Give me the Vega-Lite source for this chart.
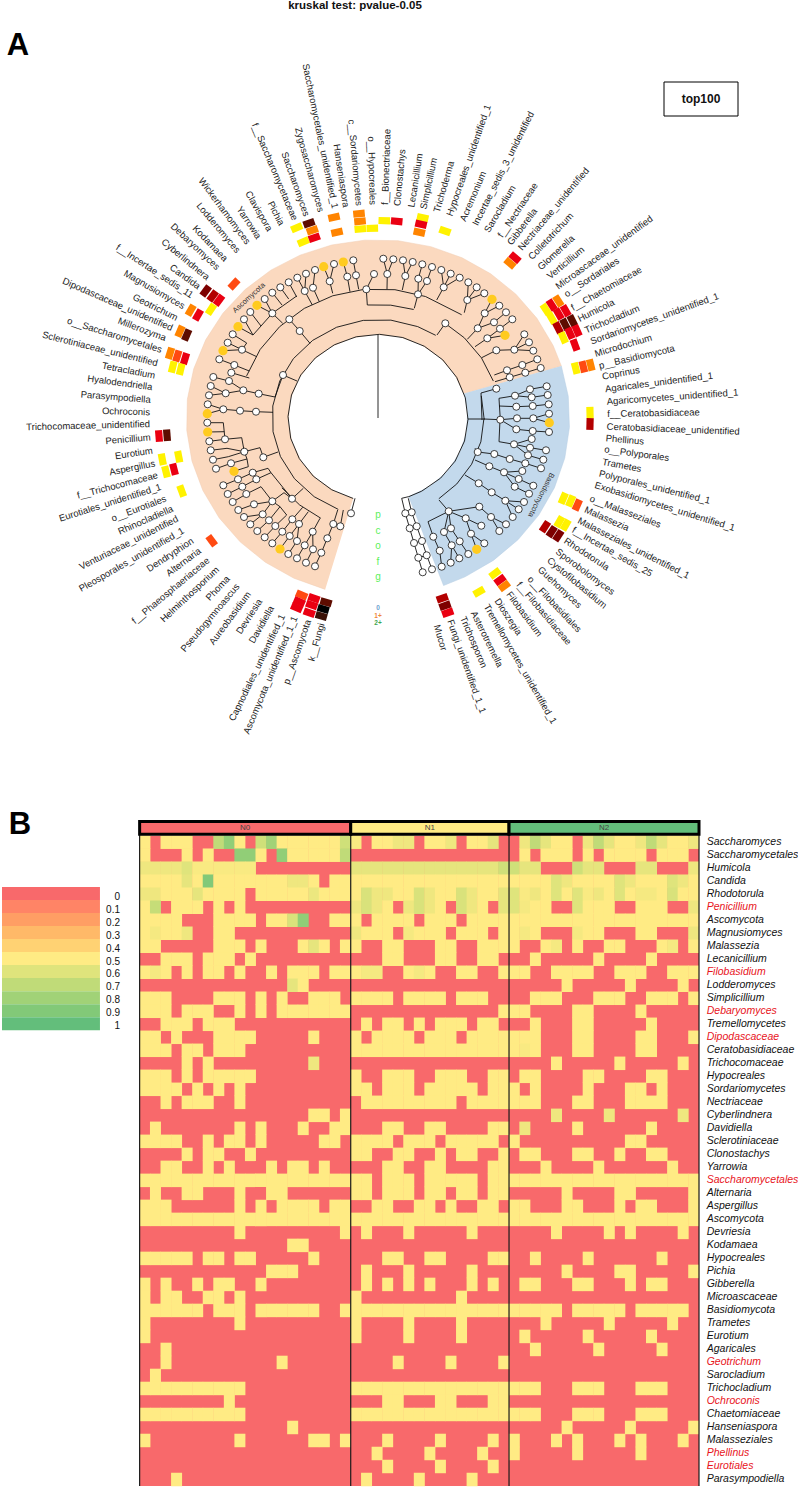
{"$schema":"https://vega.github.io/schema/vega-lite/v6.json","padding":0,"spacing":0,"bounds":"flush","background":"white","config":{"view":{"stroke":null},"text":{"font":"Liberation Sans"}},
"datasets":{
"polar":[
{"id":"p","o":1,"t":196,"r":191.7},{"id":"p","o":2,"t":206,"r":191.7},{"id":"p","o":3,"t":216,"r":191.7},{"id":"p","o":4,"t":226,"r":191.7},{"id":"p","o":5,"t":236,"r":191.7},{"id":"p","o":6,"t":246,"r":191.7},{"id":"p","o":7,"t":256,"r":191.7},{"id":"p","o":8,"t":266,"r":191.7},{"id":"p","o":9,"t":276,"r":191.7},{"id":"p","o":10,"t":286,"r":191.7},{"id":"p","o":11,"t":296,"r":191.7},{"id":"p","o":12,"t":306,"r":191.7},{"id":"p","o":13,"t":316,"r":191.7},{"id":"p","o":14,"t":326,"r":191.7},{"id":"p","o":15,"t":336,"r":191.7},{"id":"p","o":16,"t":346,"r":191.7},{"id":"p","o":17,"t":356,"r":191.7},{"id":"p","o":18,"t":366,"r":191.7},{"id":"p","o":19,"t":376,"r":191.7},{"id":"p","o":20,"t":386,"r":191.7},{"id":"p","o":21,"t":396,"r":191.7},{"id":"p","o":22,"t":406,"r":191.7},{"id":"p","o":23,"t":416,"r":191.7},{"id":"p","o":24,"t":426,"r":191.7},{"id":"p","o":25,"t":433,"r":191.7},
{"id":"p","o":26,"t":433,"r":90},{"id":"p","o":27,"t":418,"r":90},{"id":"p","o":28,"t":403,"r":90},{"id":"p","o":29,"t":388,"r":90},{"id":"p","o":30,"t":373,"r":90},{"id":"p","o":31,"t":358,"r":90},{"id":"p","o":32,"t":343,"r":90},{"id":"p","o":33,"t":328,"r":90},{"id":"p","o":34,"t":313,"r":90},{"id":"p","o":35,"t":298,"r":90},{"id":"p","o":36,"t":283,"r":90},{"id":"p","o":37,"t":268,"r":90},{"id":"p","o":38,"t":253,"r":90},{"id":"p","o":39,"t":238,"r":90},{"id":"p","o":40,"t":223,"r":90},{"id":"p","o":41,"t":208,"r":90},{"id":"p","o":42,"t":196,"r":90},
{"id":"b","o":1,"t":73,"r":191.7},{"id":"b","o":2,"t":83,"r":191.7},{"id":"b","o":3,"t":93,"r":191.7},{"id":"b","o":4,"t":103,"r":191.7},{"id":"b","o":5,"t":113,"r":191.7},{"id":"b","o":6,"t":123,"r":191.7},{"id":"b","o":7,"t":133,"r":191.7},{"id":"b","o":8,"t":143,"r":191.7},{"id":"b","o":9,"t":153,"r":191.7},{"id":"b","o":10,"t":160,"r":191.7},{"id":"b","o":11,"t":160,"r":90},{"id":"b","o":12,"t":145,"r":90},{"id":"b","o":13,"t":130,"r":90},{"id":"b","o":14,"t":115,"r":90},{"id":"b","o":15,"t":100,"r":90},{"id":"b","o":16,"t":85,"r":90},{"id":"b","o":17,"t":73,"r":90},
{"id":"a1","o":1,"t":196,"r":90},{"id":"a1","o":2,"t":211,"r":90},{"id":"a1","o":3,"t":226,"r":90},{"id":"a1","o":4,"t":241,"r":90},{"id":"a1","o":5,"t":256,"r":90},{"id":"a1","o":6,"t":271,"r":90},{"id":"a1","o":7,"t":286,"r":90},{"id":"a1","o":8,"t":301,"r":90},{"id":"a1","o":9,"t":316,"r":90},{"id":"a1","o":10,"t":331,"r":90},{"id":"a1","o":11,"t":346,"r":90},{"id":"a1","o":12,"t":361,"r":90},{"id":"a1","o":13,"t":376,"r":90},{"id":"a1","o":14,"t":391,"r":90},{"id":"a1","o":15,"t":406,"r":90},{"id":"a1","o":16,"t":421,"r":90},{"id":"a1","o":17,"t":436,"r":90},{"id":"a1","o":18,"t":451,"r":90},{"id":"a1","o":19,"t":466,"r":90},{"id":"a1","o":20,"t":481,"r":90},{"id":"a1","o":21,"t":496,"r":90},{"id":"a1","o":22,"t":511,"r":90},{"id":"a1","o":23,"t":520,"r":90},
{"id":"a2","o":1,"t":202,"r":106},{"id":"a2","o":2,"t":217,"r":106},{"id":"a2","o":3,"t":232,"r":106},{"id":"a2","o":4,"t":247,"r":106},{"id":"a2","o":5,"t":262,"r":106},{"id":"a2","o":6,"t":277,"r":106},{"id":"a2","o":7,"t":292,"r":106},{"id":"a2","o":8,"t":307,"r":106},{"id":"a2","o":9,"t":322,"r":106},{"id":"a2","o":10,"t":337,"r":106},{"id":"a2","o":11,"t":352,"r":106},{"id":"a2","o":12,"t":367,"r":106},{"id":"a2","o":13,"t":382,"r":106},{"id":"a2","o":14,"t":393,"r":106},
{"id":"a3","o":1,"t":77,"r":106},{"id":"a3","o":2,"t":90,"r":106},{"id":"a3","o":3,"t":104,"r":106},{"id":"a3","o":4,"t":118,"r":106},{"id":"a3","o":5,"t":132,"r":106},{"id":"a3","o":6,"t":145,"r":106},
{"id":"a4","o":1,"t":393,"r":122},{"id":"a4","o":2,"t":405,"r":122},{"id":"a4","o":3,"t":418,"r":122},{"id":"a4","o":4,"t":431,"r":122},
{"id":"a5","o":1,"t":355,"r":122},{"id":"a5","o":2,"t":366,"r":122},{"id":"a5","o":3,"t":377,"r":122},
{"id":"a6","o":1,"t":208,"r":122},{"id":"a6","o":2,"t":220,"r":122},{"id":"a6","o":3,"t":232,"r":122},
{"id":"a7","o":1,"t":289,"r":139},{"id":"a7","o":2,"t":302,"r":139},{"id":"a7","o":3,"t":315,"r":139},{"id":"a7","o":4,"t":328,"r":139},{"id":"a7","o":5,"t":341,"r":139},{"id":"a7","o":6,"t":354,"r":139},{"id":"a7","o":7,"t":367,"r":139},{"id":"a7","o":8,"t":380,"r":139},{"id":"a7","o":9,"t":397,"r":139}
],
"edges":[
{"x":378,"y":335,"x2":378,"y2":418},
{"x":207.7,"y":404.3,"x2":223.3,"y2":409.3},{"x":207.3,"y":413.7,"x2":223.3,"y2":409.3},{"x":223.3,"y":409.3,"x2":240,"y2":410.7},{"x":240,"y":410.7,"x2":256,"y2":411.7},{"x":256,"y":411.7,"x2":273,"y2":412.3},
{"x":209,"y":395.3,"x2":225.7,"y2":393.3},{"x":210.7,"y":386,"x2":225.7,"y2":393.3},{"x":213.3,"y":377,"x2":229,"y2":381},{"x":229,"y":381,"x2":243.3,"y2":390.3},{"x":225.7,"y":393.3,"x2":243.3,"y2":390.3},{"x":243.3,"y":390.3,"x2":258.7,"y2":393.7},{"x":258.7,"y":393.7,"x2":275,"y2":397},
{"x":219.3,"y":359.3,"x2":234.3,"y2":365},{"x":234.3,"y":365,"x2":249.3,"y2":371},{"x":231.3,"y":372.7,"x2":249.3,"y2":378},
{"x":223,"y":350.7,"x2":242,"y2":349.7},{"x":227.7,"y":342.7,"x2":242,"y2":349.7},{"x":242,"y":349.7,"x2":256.7,"y2":356.7},{"x":232.7,"y":334.3,"x2":246.7,"y2":343},{"x":246.7,"y":343,"x2":242,"y2":349.7},
{"x":238,"y":326.7,"x2":253,"y2":335},{"x":244,"y":319.3,"x2":253,"y2":335},{"x":250.3,"y":312,"x2":261,"y2":326},{"x":257,"y":305.3,"x2":272.3,"y2":313.3},{"x":264.7,"y":299,"x2":272.3,"y2":313.3},{"x":253,"y":335,"x2":272.3,"y2":313.3},{"x":272.3,"y":313.3,"x2":282.7,"y2":323.3},
{"x":272.3,"y":292.7,"x2":282,"y2":305},{"x":280.3,"y":287.3,"x2":288.7,"y2":299},{"x":288.7,"y":282.3,"x2":296.7,"y2":297},{"x":272.3,"y":313.3,"x2":296.7,"y2":296},
{"x":297.3,"y":277.7,"x2":304.7,"y2":291},{"x":306,"y":273.7,"x2":304.7,"y2":291},{"x":304.7,"y":291,"x2":312.3,"y2":305},{"x":315,"y":270,"x2":313,"y2":287.7},{"x":313,"y":287.7,"x2":319.3,"y2":301.7},{"x":323.7,"y":266.7,"x2":329.7,"y2":281.3},{"x":334,"y":264,"x2":329.7,"y2":281.3},{"x":329.7,"y":281.3,"x2":332.7,"y2":293.3},{"x":343.3,"y":262,"x2":347.3,"y2":276.7},{"x":347.3,"y":276.7,"x2":350,"y2":291.7},{"x":353.3,"y":260.3,"x2":356,"y2":275.3},{"x":356,"y":275.3,"x2":358.7,"y2":289.3},{"x":374,"y":274,"x2":366.3,"y2":289.3},{"x":366.3,"y":289.3,"x2":367.3,"y2":305},
{"x":289.3,"y":319.3,"x2":299.7,"y2":331},{"x":299.7,"y":331,"x2":310,"y2":343.3},{"x":283,"y":375,"x2":275,"y2":397},{"x":283,"y":375,"x2":297,"y2":381},
{"x":383.3,"y":258.7,"x2":387.3,"y2":274},{"x":393.3,"y":259.3,"x2":387.3,"y2":274},{"x":387.3,"y":274,"x2":387,"y2":289.3},{"x":403,"y":260.3,"x2":405.3,"y2":276},{"x":412.7,"y":262,"x2":405.3,"y2":276},{"x":405.3,"y":276,"x2":402.3,"y2":290},{"x":422.3,"y":264.3,"x2":418.3,"y2":278.7},{"x":432,"y":267,"x2":427,"y2":281},{"x":418.3,"y":278.7,"x2":418,"y2":294.3},{"x":427,"y":281,"x2":418,"y2":294.3},{"x":418,"y":294.3,"x2":414.3,"y2":308.3},{"x":441.3,"y":270,"x2":443.7,"y2":287.3},{"x":450.7,"y":273.7,"x2":443.7,"y2":287.3},{"x":459.7,"y":277.7,"x2":443.7,"y2":287.3},{"x":443.7,"y":287.3,"x2":436.7,"y2":300},{"x":468.3,"y":282.3,"x2":467.3,"y2":300},{"x":476.7,"y":287.3,"x2":467.3,"y2":300},{"x":484.3,"y":293.3,"x2":467.3,"y2":300},{"x":467.3,"y":300,"x2":464.3,"y2":312.7},
{"x":492,"y":299.3,"x2":484.7,"y2":313.3},{"x":499.3,"y":305.7,"x2":484.7,"y2":313.3},{"x":484.7,"y":313.3,"x2":477.7,"y2":328.3},{"x":506,"y":312.3,"x2":494,"y2":322.3},{"x":494,"y":322.3,"x2":477.7,"y2":328.3},{"x":477.7,"y":328.3,"x2":467.3,"y2":339.3},{"x":512.3,"y":319.3,"x2":500,"y2":328.7},{"x":500,"y":328.7,"x2":487.3,"y2":338.3},{"x":505,"y":335.3,"x2":487.3,"y2":338.3},{"x":487.3,"y":338.3,"x2":475,"y2":346.7},{"x":524.3,"y":334.3,"x2":514.3,"y2":349.7},{"x":529,"y":342.3,"x2":514.3,"y2":349.7},{"x":533.3,"y":350.7,"x2":514.3,"y2":349.7},{"x":514.3,"y":349.7,"x2":496.3,"y2":350.3},{"x":496.3,"y":350.3,"x2":481.7,"y2":357.7},{"x":537.3,"y":359.3,"x2":522.3,"y2":365},{"x":522.3,"y":365,"x2":507,"y2":370.3},{"x":507,"y":370.3,"x2":494.3,"y2":375},{"x":540.7,"y":368,"x2":525.3,"y2":372.7},{"x":525.3,"y":372.7,"x2":509.7,"y2":377.3},{"x":509.7,"y":377.3,"x2":495,"y2":381.7},{"x":445.3,"y":323.3,"x2":437,"y2":335},
{"x":496.3,"y":388.7,"x2":481,"y2":393},{"x":481,"y":393,"x2":482,"y2":420},{"x":468,"y":419,"x2":485,"y2":419},{"x":484,"y":419,"x2":500.3,"y2":419.7},{"x":500.3,"y":419.7,"x2":499,"y2":398.3},{"x":499,"y":398.3,"x2":515,"y2":395.7},{"x":499,"y":406,"x2":516.3,"y2":406.7},{"x":500.3,"y":419.7,"x2":517,"y2":418.3},{"x":500.3,"y":419.7,"x2":516.3,"y2":429.3},{"x":500,"y":419.7,"x2":499,"y2":441.7},{"x":499,"y":441.7,"x2":514,"y2":444.3},
{"x":515,"y":395.7,"x2":530,"y2":389.3},{"x":530,"y":389.3,"x2":546.7,"y2":386.3},{"x":515,"y":395.7,"x2":531.7,"y2":397.3},{"x":531.7,"y":397.3,"x2":547.7,"y2":395},{"x":516.3,"y":406.7,"x2":532.7,"y2":406},{"x":532.7,"y":406,"x2":548.7,"y2":404.3},{"x":517,"y":418.3,"x2":533.3,"y2":418.3},{"x":533.3,"y":418.3,"x2":549,"y2":413.7},{"x":533.3,"y":418.3,"x2":549.3,"y2":422.7},{"x":516.3,"y":429.3,"x2":532.7,"y2":431},{"x":532.7,"y":431,"x2":549,"y2":432},{"x":514,"y":444.3,"x2":531.7,"y2":439},{"x":514,"y":444.3,"x2":530,"y2":447.7},{"x":530,"y":447.7,"x2":546,"y2":450.3},{"x":514,"y":444.3,"x2":528,"y2":455.3},{"x":528,"y":455.3,"x2":543.3,"y2":459.7},
{"x":475,"y":448.3,"x2":477.7,"y2":452},{"x":477.7,"y":452,"x2":494.3,"y2":454},{"x":494.3,"y":454,"x2":509.7,"y2":459},{"x":509.7,"y":459,"x2":525.3,"y2":463.3},{"x":525.3,"y":463.3,"x2":541,"y2":468.3},{"x":475,"y":460,"x2":489.3,"y2":466.3},{"x":489.3,"y":466.3,"x2":504,"y2":472.3},{"x":504,"y":472.3,"x2":522.3,"y2":471},{"x":504,"y":472.3,"x2":518.7,"y2":479},{"x":518.7,"y":479,"x2":533.3,"y2":485.7},{"x":504,"y":472.3,"x2":514.7,"y2":486.7},{"x":514.7,"y":486.7,"x2":529,"y2":493.7},
{"x":465,"y":475,"x2":478.7,"y2":483.3},{"x":478.7,"y":483.3,"x2":491.7,"y2":492.3},{"x":491.7,"y":492.3,"x2":505.3,"y2":500.7},{"x":505.3,"y":500.7,"x2":524,"y2":502},{"x":505.3,"y":500.7,"x2":518.7,"y2":509.3},{"x":505.3,"y":500.7,"x2":512.7,"y2":517},
{"x":439,"y":500,"x2":448.7,"y2":511.3},{"x":448.7,"y":511.3,"x2":479.3,"y2":506.7},{"x":479.3,"y":506.7,"x2":491,"y2":517},{"x":491,"y":517,"x2":506,"y2":524.3},{"x":491,"y":517,"x2":499.3,"y2":531},{"x":448.7,"y":511.3,"x2":465.7,"y2":518.3},{"x":465.7,"y":518.3,"x2":481.3,"y2":525.7},{"x":465.7,"y":518.3,"x2":471,"y2":533.7},{"x":471,"y":533.7,"x2":484.3,"y2":543.3},{"x":471,"y":533.7,"x2":476.7,"y2":549.3},{"x":448.7,"y":511.3,"x2":451,"y2":528.3},{"x":451,"y":528.3,"x2":459.7,"y2":541.3},{"x":459.7,"y":541.3,"x2":468.3,"y2":554},{"x":448.7,"y":511.3,"x2":444,"y2":532},{"x":444,"y":532,"x2":451.7,"y2":545.3},{"x":451.7,"y":545.3,"x2":459.3,"y2":558.3},{"x":448.7,"y":511.3,"x2":428,"y2":521.7},{"x":428,"y":521.7,"x2":433.3,"y2":536.7},{"x":433.3,"y":536.7,"x2":439.7,"y2":550.7},{"x":439.7,"y":550.7,"x2":441.7,"y2":566.7},{"x":451.7,"y":545.3,"x2":450.7,"y2":562.7},
{"x":401.7,"y":498.3,"x2":408.8,"y2":496.6},{"x":401.7,"y":498.3,"x2":405.3,"y2":513.3},{"x":408.3,"y":498.3,"x2":411.7,"y2":512.3},{"x":405.3,"y":513.3,"x2":409.7,"y2":528.3},{"x":409.7,"y":528.3,"x2":414,"y2":543},{"x":414,"y":543,"x2":418.3,"y2":557.7},{"x":418.3,"y":557.7,"x2":422.7,"y2":572.3},{"x":411.7,"y":512.3,"x2":416.7,"y2":526.3},{"x":416.7,"y":526.3,"x2":422,"y2":541},{"x":422,"y":541,"x2":426.7,"y2":555.3},{"x":426.7,"y":555.3,"x2":432,"y2":569.3},{"x":405.3,"y":513.3,"x2":411.7,"y2":512.3},{"x":409.7,"y":528.3,"x2":416.7,"y2":526.3},{"x":414,"y":543,"x2":422,"y2":541},{"x":418.3,"y":557.7,"x2":426.7,"y2":555.3},
{"x":207.3,"y":422.7,"x2":223.3,"y2":422.7},{"x":207.7,"y":432,"x2":224.3,"y2":431.7},{"x":223.3,"y":422.7,"x2":225,"y2":439.3},{"x":209.3,"y":441.3,"x2":225,"y2":439.3},{"x":225,"y":439.3,"x2":241.7,"y2":437.7},{"x":241.7,"y":437.7,"x2":244.3,"y2":451.7},{"x":210.7,"y":450.3,"x2":227,"y2":448.3},{"x":213,"y":459.7,"x2":228.3,"y2":456.7},{"x":227,"y":448.3,"x2":244.3,"y2":451.7},{"x":228.3,"y":456.7,"x2":244.3,"y2":451.7},{"x":216,"y":468.7,"x2":231,"y2":463.3},{"x":231,"y":463.3,"x2":247,"y2":459},{"x":247,"y":459,"x2":244.3,"y2":451.7},{"x":244.3,"y":451.7,"x2":260,"y2":447.7},{"x":260,"y":447.7,"x2":263.3,"y2":457.3},{"x":263.3,"y":457.3,"x2":278,"y2":452},
{"x":234,"y":471.3,"x2":248.3,"y2":466.7},{"x":248.3,"y":466.7,"x2":247,"y2":459},{"x":223.3,"y":485.3,"x2":238,"y2":479.3},{"x":238,"y":479.3,"x2":252.7,"y2":472.7},{"x":227.7,"y":494,"x2":242.3,"y2":486.7},{"x":242.3,"y":486.7,"x2":256.3,"y2":479.3},{"x":252.7,"y":472.7,"x2":268,"y2":468.3},{"x":268,"y":468.3,"x2":271,"y2":472.7},{"x":256.3,"y":479.3,"x2":271,"y2":472.7},{"x":271,"y":472.7,"x2":292,"y2":498.7},
{"x":232.7,"y":502,"x2":246.3,"y2":494},{"x":246.3,"y":494,"x2":261,"y2":486.7},{"x":261,"y":486.7,"x2":272.3,"y2":501.3},{"x":238.3,"y":510,"x2":254,"y2":504.3},{"x":254,"y":504.3,"x2":272.3,"y2":501.3},{"x":244,"y":517,"x2":262.7,"y2":514.3},{"x":250.3,"y":524.3,"x2":262.7,"y2":514.3},{"x":262.7,"y":514.3,"x2":272.3,"y2":501.3},{"x":272.3,"y":501.3,"x2":284,"y2":492.7},{"x":284,"y":492.7,"x2":292,"y2":498.7},
{"x":257.3,"y":531,"x2":269,"y2":520.3},{"x":269,"y":520.3,"x2":280,"y2":506.7},{"x":264.7,"y":537.3,"x2":275.3,"y2":526},{"x":275.3,"y":526,"x2":286.7,"y2":515},{"x":286.7,"y":515,"x2":280,"y2":506.7},{"x":280,"y":506.7,"x2":272.3,"y2":501.3},{"x":272.3,"y":543.3,"x2":282.3,"y2":531.7},{"x":282.3,"y":531.7,"x2":292.3,"y2":519.3},{"x":292.3,"y":519.3,"x2":302.7,"y2":507.3},{"x":280,"y":549,"x2":289.7,"y2":536},{"x":289.7,"y":536,"x2":299,"y2":524},{"x":299,"y":524,"x2":308.3,"y2":511.7},{"x":288.3,"y":554,"x2":297,"y2":541},{"x":297,"y":541,"x2":299,"y2":524},{"x":297,"y":558.3,"x2":304.7,"y2":545.3},{"x":304.7,"y":545.3,"x2":312.7,"y2":531.7},{"x":306,"y":562.7,"x2":313,"y2":549.3},{"x":313,"y":549.3,"x2":312.7,"y2":531.7},{"x":312.7,"y":531.7,"x2":320,"y2":518.3},{"x":315,"y":566.3,"x2":321.3,"y2":552.7},{"x":321.3,"y":552.7,"x2":327.3,"y2":538.3},{"x":327.3,"y":538.3,"x2":333.3,"y2":524},{"x":333.3,"y":524,"x2":337.7,"y2":510},{"x":340.3,"y":526.3,"x2":343.3,"y2":510},{"x":351,"y":513.3,"x2":355,"y2":498.3},{"x":292,"y":498.7,"x2":303.3,"y2":488.3}
],
"nodes":[
{"x":207.7,"y":404.3},{"x":209,"y":395.3},{"x":210.7,"y":386},{"x":213.3,"y":377},{"x":219.3,"y":359.3},{"x":227.7,"y":342.7},{"x":232.7,"y":334.3},{"x":244,"y":319.3},{"x":250.3,"y":312},{"x":264.7,"y":299},{"x":272.3,"y":292.7},{"x":280.3,"y":287.3},{"x":288.7,"y":282.3},{"x":297.3,"y":277.7},{"x":306,"y":273.7},{"x":315,"y":270},{"x":334,"y":264},{"x":353.3,"y":260.3},{"x":225.7,"y":393.3},{"x":229,"y":381},{"x":231.3,"y":372.7},{"x":234.3,"y":365},{"x":242,"y":349.7},{"x":272.3,"y":313.3},{"x":289.3,"y":319.3},{"x":299.7,"y":331},{"x":283,"y":375},{"x":243.3,"y":390.3},{"x":258.7,"y":393.7},{"x":304.7,"y":291},{"x":313,"y":287.7},{"x":329.7,"y":281.3},{"x":347.3,"y":276.7},{"x":356,"y":275.3},{"x":366.3,"y":289.3},{"x":374,"y":274},
{"x":383.3,"y":258.7},{"x":393.3,"y":259.3},{"x":403,"y":260.3},{"x":412.7,"y":262},{"x":422.3,"y":264.3},{"x":432,"y":267},{"x":441.3,"y":270},{"x":450.7,"y":273.7},{"x":459.7,"y":277.7},{"x":468.3,"y":282.3},{"x":476.7,"y":287.3},{"x":484.3,"y":293.3},{"x":499.3,"y":305.7},{"x":506,"y":312.3},{"x":512.3,"y":319.3},{"x":524.3,"y":334.3},{"x":529,"y":342.3},{"x":533.3,"y":350.7},{"x":537.3,"y":359.3},{"x":540.7,"y":368},{"x":387.3,"y":274},{"x":405.3,"y":276},{"x":418.3,"y":278.7},{"x":427,"y":281},{"x":443.7,"y":287.3},{"x":467.3,"y":300},{"x":484.7,"y":313.3},{"x":494,"y":322.3},{"x":500,"y":328.7},{"x":477.7,"y":328.3},{"x":487.3,"y":338.3},{"x":514.3,"y":349.7},{"x":496.3,"y":350.3},{"x":522.3,"y":365},{"x":525.3,"y":372.7},{"x":507,"y":370.3},{"x":509.7,"y":377.3},{"x":418,"y":294.3},{"x":445.3,"y":323.3},
{"x":496.3,"y":388.7},{"x":530,"y":389.3},{"x":546.7,"y":386.3},{"x":547.7,"y":395},{"x":531.7,"y":397.3},{"x":515,"y":395.7},{"x":548.7,"y":404.3},{"x":532.7,"y":406},{"x":516.3,"y":406.7},{"x":549,"y":413.7},{"x":533.3,"y":418.3},{"x":517,"y":418.3},{"x":500.3,"y":419.7},{"x":549,"y":432},{"x":532.7,"y":431},{"x":516.3,"y":429.3},{"x":531.7,"y":439},{"x":514,"y":444.3},{"x":530,"y":447.7},{"x":546,"y":450.3},{"x":528,"y":455.3},{"x":543.3,"y":459.7},{"x":525.3,"y":463.3},{"x":541,"y":468.3},{"x":494.3,"y":454},{"x":509.7,"y":459},{"x":477.7,"y":452},{"x":489.3,"y":466.3},{"x":504,"y":472.3},{"x":522.3,"y":471},{"x":518.7,"y":479},{"x":533.3,"y":485.7},{"x":514.7,"y":486.7},{"x":529,"y":493.7},{"x":478.7,"y":483.3},{"x":491.7,"y":492.3},{"x":505.3,"y":500.7},{"x":524,"y":502},{"x":518.7,"y":509.3},{"x":512.7,"y":517},{"x":506,"y":524.3},{"x":499.3,"y":531},{"x":491,"y":517},{"x":448.7,"y":511.3},{"x":479.3,"y":506.7},{"x":465.7,"y":518.3},{"x":481.3,"y":525.7},{"x":471,"y":533.7},{"x":484.3,"y":543.3},{"x":468.3,"y":554},{"x":459.7,"y":541.3},{"x":459.3,"y":558.3},{"x":451,"y":528.3},{"x":451.7,"y":545.3},{"x":450.7,"y":562.7},{"x":444,"y":532},{"x":441.7,"y":566.7},{"x":439.7,"y":550.7},{"x":433.3,"y":536.7},{"x":432,"y":569.3},{"x":422.7,"y":572.3},{"x":426.7,"y":555.3},{"x":418.3,"y":557.7},{"x":422,"y":541},{"x":414,"y":543},{"x":416.7,"y":526.3},{"x":409.7,"y":528.3},{"x":411.7,"y":512.3},{"x":405.3,"y":513.3},
{"x":207.3,"y":422.7},{"x":209.3,"y":441.3},{"x":210.7,"y":450.3},{"x":213,"y":459.7},{"x":216,"y":468.7},{"x":223.3,"y":485.3},{"x":227.7,"y":494},{"x":232.7,"y":502},{"x":238.3,"y":510},{"x":244,"y":517},{"x":250.3,"y":524.3},{"x":257.3,"y":531},{"x":264.7,"y":537.3},{"x":272.3,"y":543.3},{"x":288.3,"y":554},{"x":297,"y":558.3},{"x":306,"y":562.7},{"x":315,"y":566.3},{"x":223.3,"y":409.3},{"x":240,"y":410.7},{"x":256,"y":411.7},{"x":225,"y":439.3},{"x":244.3,"y":451.7},{"x":263.3,"y":457.3},{"x":231,"y":463.3},{"x":252.7,"y":472.7},{"x":238,"y":479.3},{"x":256.3,"y":479.3},{"x":242.3,"y":486.7},{"x":246.3,"y":494},{"x":254,"y":504.3},{"x":272.3,"y":501.3},{"x":262.7,"y":514.3},{"x":269,"y":520.3},{"x":275.3,"y":526},{"x":282.3,"y":531.7},{"x":289.7,"y":536},{"x":297,"y":541},{"x":304.7,"y":545.3},{"x":313,"y":549.3},{"x":321.3,"y":552.7},{"x":292,"y":498.7},{"x":292.3,"y":519.3},{"x":299,"y":524},{"x":312.7,"y":531.7},{"x":327.3,"y":538.3},{"x":333.3,"y":524},{"x":340.3,"y":526.3},{"x":351,"y":513.3}
],
"ynodes":[{"x":223,"y":350.7},{"x":238,"y":326.7},{"x":257,"y":305.3},{"x":323.7,"y":266.7},{"x":343.3,"y":262},{"x":492,"y":299.3},{"x":505,"y":335.3},{"x":549.3,"y":422.7},{"x":476.7,"y":549.3},{"x":207.3,"y":413.7},{"x":207.7,"y":432},{"x":234,"y":471.3},{"x":280,"y":549}],
"cells":[
{"x":301.7,"y":595,"z":3},{"x":314,"y":598.3,"z":4},{"x":326,"y":602.3,"z":7},{"x":299.3,"y":601.7,"z":4},{"x":311.7,"y":605,"z":4},{"x":323.3,"y":609,"z":9},{"x":296.7,"y":607.7,"z":4},{"x":309.3,"y":612.7,"z":4},{"x":321.3,"y":616,"z":8},
{"x":442.3,"y":598.3,"z":5},{"x":445,"y":605.7,"z":6},{"x":447.7,"y":612.7,"z":4},{"x":479,"y":591.7,"z":1},{"x":495,"y":573.3,"z":1},{"x":500,"y":580,"z":4},{"x":504.3,"y":586,"z":2},
{"x":545,"y":526.7,"z":5},{"x":551.7,"y":531.7,"z":6},{"x":558.3,"y":535.7,"z":6},{"x":559.3,"y":521.7,"z":1},{"x":565.7,"y":525,"z":1},{"x":563.3,"y":498.3,"z":1},{"x":570.7,"y":501,"z":1},{"x":577.3,"y":505,"z":3},{"x":590,"y":412.7,"z":1},{"x":590,"y":424,"z":5},{"x":575.7,"y":368.3,"z":1},{"x":583.3,"y":366.7,"z":3},{"x":590.7,"y":365,"z":2},
{"x":545.7,"y":309.3,"z":1},{"x":551.7,"y":305,"z":4},{"x":558.3,"y":301,"z":2},{"x":551.7,"y":318.3,"z":1},{"x":558.7,"y":314,"z":4},{"x":565.7,"y":310.7,"z":4},{"x":558,"y":327.7,"z":5},{"x":565,"y":324.3,"z":7},{"x":572.3,"y":320.7,"z":7},{"x":563.3,"y":337.7,"z":1},{"x":570,"y":333.3,"z":4},{"x":577,"y":330.7,"z":4},{"x":575,"y":345,"z":4},
{"x":515,"y":257.7,"z":4},{"x":510,"y":263.3,"z":2},{"x":445,"y":231,"z":1},{"x":422.7,"y":217.7,"z":1},{"x":421,"y":224.3,"z":4},{"x":419.3,"y":232.3,"z":2},{"x":396.7,"y":221.3,"z":4},{"x":384.3,"y":220.7,"z":1},{"x":372.3,"y":228.3,"z":1},{"x":360.3,"y":229,"z":1},{"x":360,"y":221.3,"z":2},{"x":359,"y":213.7,"z":2},{"x":337,"y":232.3,"z":2},{"x":334,"y":217.3,"z":2},{"x":296.7,"y":227.7,"z":1},{"x":309,"y":223.3,"z":7},{"x":312.3,"y":230.3,"z":2},{"x":303.3,"y":241.7,"z":1},{"x":314.3,"y":237.7,"z":4},
{"x":234,"y":284,"z":3},{"x":205.7,"y":291,"z":6},{"x":212.7,"y":296,"z":5},{"x":219,"y":300.3,"z":4},{"x":211,"y":309.3,"z":1},{"x":190.7,"y":310.3,"z":2},{"x":198,"y":315,"z":4},{"x":180,"y":331.3,"z":2},{"x":186.7,"y":335,"z":7},{"x":170,"y":353.3,"z":2},{"x":177.3,"y":356,"z":3},{"x":185,"y":358.7,"z":4},{"x":172.7,"y":367,"z":1},{"x":180.7,"y":369.3,"z":1},{"x":159,"y":436,"z":4},{"x":167,"y":435.3,"z":7},{"x":178.7,"y":456.7,"z":1},{"x":162.3,"y":459.3,"z":1},{"x":166,"y":471.7,"z":1},{"x":174,"y":469.3,"z":4},{"x":181.7,"y":491,"z":1},{"x":211.7,"y":540.7,"z":3}
],
"labels":[
{"s":"k__Fungi","x":321.7,"y":623.3},{"s":"p__Ascomycota","x":308.3,"y":620},{"s":"Ascomycota_unidentified_1_1","x":295,"y":616.7},{"s":"Capnodiales_unidentified_1","x":282.7,"y":615},{"s":"Davidiella","x":271.7,"y":606.7},{"s":"Devriesia","x":260,"y":600},{"s":"Aureobasidium","x":249,"y":592.7},{"s":"Pseudogymnoascus","x":237.7,"y":585},{"s":"Phoma","x":228.3,"y":577.3},{"s":"Helminthosporium","x":217.7,"y":568.3},{"s":"f__Phaeosphaeriaceae","x":208.3,"y":559.3},{"s":"Alternaria","x":200,"y":550},{"s":"Dendryphion","x":192.7,"y":540},{"s":"Pleosporales_unidentified_1","x":183.3,"y":530},{"s":"Venturiaceae_unidentified","x":177.7,"y":518.3},{"s":"Rhinocladiella","x":172.7,"y":508.3},{"s":"o__Eurotiales","x":166,"y":498.3},{"s":"Eurotiales_unidentified_1","x":161,"y":486.7},{"s":"f__Trichocomaceae","x":157.7,"y":475},{"s":"Aspergillus","x":155,"y":463.3},{"s":"Eurotium","x":152.7,"y":450.7},{"s":"Penicillium","x":150.7,"y":437.3},{"s":"Trichocomaceae_unidentified","x":150,"y":424},{"s":"Ochroconis","x":150,"y":412.3},{"s":"Parasympodiella","x":150.7,"y":400},{"s":"Hyalodendriella","x":152.3,"y":387.3},{"s":"Tetracladium","x":155,"y":375.7},{"s":"Sclerotiniaceae_unidentified","x":157.7,"y":363.3},{"s":"o__Saccharomycetales","x":161.7,"y":350},{"s":"Millerozyma","x":165.7,"y":338.3},{"s":"Dipodascaceae_unidentified","x":172.3,"y":328.3},{"s":"Geotrichum","x":177.3,"y":318.3},{"s":"Magnusiomyces","x":184,"y":306.7},{"s":"f__Incertae_sedis_11","x":192.3,"y":296},{"s":"Candida","x":199.3,"y":287.3},{"s":"Cyberlindnera","x":208.3,"y":278.3},{"s":"Debaryomyces","x":218.3,"y":268.3},{"s":"Kodamaea","x":226,"y":260},{"s":"Lodderomyces","x":238.3,"y":251.7},{"s":"Wickerhamomyces","x":248.3,"y":243.3},{"s":"Yarrowia","x":259,"y":238},{"s":"Clavispora","x":270,"y":230.7},{"s":"Pichia","x":281.7,"y":225},{"s":"f__Saccharomycetaceae","x":295,"y":220},{"s":"Saccharomyces","x":306.7,"y":216},{"s":"Zygosaccharomyces","x":321,"y":211.7},{"s":"Saccharomycetales_unidentified_1","x":335,"y":208.3},{"s":"Hanseniaspora","x":346,"y":207.3},{"s":"c__Sordariomycetes","x":359,"y":205.7},{"s":"o__Hypocreales","x":372.7,"y":205},
{"s":"f__Bionectriaceae","x":385,"y":205},{"s":"Clonostachys","x":397.3,"y":206},{"s":"Lecanicillium","x":411.3,"y":207.3},{"s":"Simplicillium","x":423.3,"y":209},{"s":"Trichoderma","x":436.7,"y":212.3},{"s":"Hypocreales_unidentified_1","x":449.3,"y":215.7},{"s":"Acremonium","x":462.7,"y":220.7},{"s":"Incertae_sedis_3_unidentified","x":475,"y":225},{"s":"Sarocladium","x":486.7,"y":231.7},{"s":"f__Nectriaceae","x":500,"y":236.7},{"s":"Gibberella","x":509.3,"y":244},{"s":"Nectriaceae_unidentified","x":520,"y":249},{"s":"Colletotrichum","x":530,"y":258.3},{"s":"Glomerella","x":539.3,"y":268.3},{"s":"Verticillium","x":548.3,"y":277.3},{"s":"Microascaceae_unidentified","x":556.7,"y":287.3},{"s":"o__Sordariales","x":565,"y":295},{"s":"f__Chaetomiaceae","x":571.7,"y":308.3},{"s":"Humicola","x":578.3,"y":319.3},{"s":"Trichocladium","x":585,"y":330.7},{"s":"Sordariomycetes_unidentified_1","x":590.7,"y":341.7},{"s":"Microdochium","x":595,"y":354},{"s":"p__Basidiomycota","x":599,"y":366},{"s":"Coprinus","x":602.3,"y":376.7},{"s":"Agaricales_unidentified_1","x":605,"y":389.3},{"s":"Agaricomycetes_unidentified_1","x":606.7,"y":401.7},{"s":"f__Ceratobasidiaceae","x":607.3,"y":414},{"s":"Ceratobasidiaceae_unidentified","x":606.7,"y":426.7},{"s":"Phellinus","x":605.7,"y":438.3},{"s":"o__Polyporales","x":604.3,"y":449.3},{"s":"Trametes","x":602.3,"y":461.7},{"s":"Polyporales_unidentified_1","x":599.3,"y":473.3},{"s":"Exobasidiomycetes_unidentified_1","x":595,"y":485},{"s":"o__Malasseziales","x":590,"y":498.3},{"s":"Malassezia","x":585,"y":509.3},{"s":"Malasseziales_unidentified_1","x":578.3,"y":520},{"s":"f__Incertae_sedis_25","x":572.7,"y":529.3},{"s":"Rhodotorula","x":565,"y":540},{"s":"Sporobolomyces","x":556.7,"y":550.7},{"s":"Cystofilobasidium","x":548.3,"y":559.3},{"s":"Guehomyces","x":539.3,"y":568.3},{"s":"o__Filobasidiales","x":529.3,"y":577.7},{"s":"f__Filobasidiaceae","x":518.3,"y":583.3},{"s":"Filobasidium","x":508.3,"y":592.7},{"s":"Dioszegia","x":496.7,"y":599.3},{"s":"Tremellomycetes_unidentified_1","x":486,"y":605},{"s":"Asterotremella","x":473.3,"y":611.7},{"s":"Trichosporon","x":462.7,"y":616.7},{"s":"Fungi_unidentified_1_1","x":450,"y":620},{"s":"Mucor","x":436.7,"y":625}
],
"rows":[{"r":0,"s":"Saccharomyces","k":"n"},{"r":1,"s":"Saccharomycetales","k":"n"},{"r":2,"s":"Humicola","k":"n"},{"r":3,"s":"Candida","k":"n"},{"r":4,"s":"Rhodotorula","k":"n"},{"r":5,"s":"Penicillium","k":"s"},{"r":6,"s":"Ascomycota","k":"n"},{"r":7,"s":"Magnusiomyces","k":"n"},{"r":8,"s":"Malassezia","k":"n"},{"r":9,"s":"Lecanicillium","k":"n"},{"r":10,"s":"Filobasidium","k":"s"},{"r":11,"s":"Lodderomyces","k":"n"},{"r":12,"s":"Simplicillium","k":"n"},{"r":13,"s":"Debaryomyces","k":"s"},{"r":14,"s":"Tremellomycetes","k":"n"},{"r":15,"s":"Dipodascaceae","k":"s"},{"r":16,"s":"Ceratobasidiaceae","k":"n"},{"r":17,"s":"Trichocomaceae","k":"n"},{"r":18,"s":"Hypocreales","k":"n"},{"r":19,"s":"Sordariomycetes","k":"n"},{"r":20,"s":"Nectriaceae","k":"n"},{"r":21,"s":"Cyberlindnera","k":"n"},{"r":22,"s":"Davidiella","k":"n"},{"r":23,"s":"Sclerotiniaceae","k":"n"},{"r":24,"s":"Clonostachys","k":"n"},{"r":25,"s":"Yarrowia","k":"n"},{"r":26,"s":"Saccharomycetales","k":"s"},{"r":27,"s":"Alternaria","k":"n"},{"r":28,"s":"Aspergillus","k":"n"},{"r":29,"s":"Ascomycota","k":"n"},{"r":30,"s":"Devriesia","k":"n"},{"r":31,"s":"Kodamaea","k":"n"},{"r":32,"s":"Hypocreales","k":"n"},{"r":33,"s":"Pichia","k":"n"},{"r":34,"s":"Gibberella","k":"n"},{"r":35,"s":"Microascaceae","k":"n"},{"r":36,"s":"Basidiomycota","k":"n"},{"r":37,"s":"Trametes","k":"n"},{"r":38,"s":"Eurotium","k":"n"},{"r":39,"s":"Agaricales","k":"n"},{"r":40,"s":"Geotrichum","k":"s"},{"r":41,"s":"Sarocladium","k":"n"},{"r":42,"s":"Trichocladium","k":"n"},{"r":43,"s":"Ochroconis","k":"s"},{"r":44,"s":"Chaetomiaceae","k":"n"},{"r":45,"s":"Hanseniaspora","k":"n"},{"r":46,"s":"Malasseziales","k":"n"},{"r":47,"s":"Phellinus","k":"s"},{"r":48,"s":"Eurotiales","k":"s"},{"r":49,"s":"Parasympodiella","k":"n"}],
"heat":[
{"r":0,"c":0,"v":0.5},{"r":0,"c":2,"v":0.5},{"r":0,"c":3,"v":0.5},{"r":0,"c":4,"v":0.5},{"r":0,"c":7,"v":0.7},{"r":0,"c":8,"v":0.85},{"r":0,"c":9,"v":0.5},{"r":0,"c":11,"v":0.65},{"r":0,"c":12,"v":0.8},{"r":0,"c":13,"v":0.5},{"r":0,"c":14,"v":0.5},{"r":0,"c":15,"v":0.5},{"r":0,"c":16,"v":0.5},{"r":0,"c":17,"v":0.5},{"r":0,"c":18,"v":0.5},{"r":0,"c":19,"v":0.65},{"r":0,"c":20,"v":0.52},{"r":0,"c":22,"v":0.5},{"r":0,"c":23,"v":0.5},{"r":0,"c":24,"v":0.55},{"r":0,"c":25,"v":0.55},{"r":0,"c":27,"v":0.5},{"r":0,"c":28,"v":0.5},{"r":0,"c":29,"v":0.55},{"r":0,"c":31,"v":0.5},{"r":0,"c":32,"v":0.5},{"r":0,"c":33,"v":0.58},{"r":0,"c":36,"v":0.55},{"r":0,"c":37,"v":0.7},{"r":0,"c":38,"v":0.58},{"r":0,"c":39,"v":0.5},{"r":0,"c":40,"v":0.5},{"r":0,"c":42,"v":0.55},{"r":0,"c":43,"v":0.7},{"r":0,"c":44,"v":0.58},{"r":0,"c":45,"v":0.5},{"r":0,"c":46,"v":0.5},{"r":0,"c":47,"v":0.55},{"r":0,"c":48,"v":0.7},{"r":0,"c":49,"v":0.58},{"r":0,"c":50,"v":0.5},{"r":0,"c":51,"v":0.5},{"r":0,"c":52,"v":0.55},
{"r":1,"c":0,"v":0.5},{"r":1,"c":4,"v":0.5},{"r":1,"c":6,"v":0.5},{"r":1,"c":9,"v":0.85},{"r":1,"c":10,"v":0.85},{"r":1,"c":11,"v":0.5},{"r":1,"c":13,"v":0.85},{"r":1,"c":14,"v":0.5},{"r":1,"c":15,"v":0.5},{"r":1,"c":16,"v":0.5},{"r":1,"c":17,"v":0.5},{"r":1,"c":18,"v":0.5},{"r":1,"c":19,"v":0.7},{"r":1,"c":36,"v":0.5},{"r":1,"c":38,"v":0.5},{"r":1,"c":39,"v":0.5},{"r":1,"c":40,"v":0.5},{"r":1,"c":42,"v":0.5},{"r":1,"c":44,"v":0.5},{"r":1,"c":45,"v":0.5},{"r":1,"c":46,"v":0.5},{"r":1,"c":47,"v":0.5},{"r":1,"c":49,"v":0.5},{"r":1,"c":50,"v":0.5},{"r":1,"c":51,"v":0.5},
{"r":2,"c":0,"v":0.55},{"r":2,"c":1,"v":0.55},{"r":2,"c":2,"v":0.55},{"r":2,"c":3,"v":0.55},{"r":2,"c":4,"v":0.6},{"r":2,"c":5,"v":0.52},{"r":2,"c":6,"v":0.52},{"r":2,"c":7,"v":0.52},{"r":2,"c":8,"v":0.52},{"r":2,"c":9,"v":0.52},{"r":2,"c":10,"v":0.52},{"r":2,"c":20,"v":0.58},{"r":2,"c":21,"v":0.58},{"r":2,"c":22,"v":0.58},{"r":2,"c":23,"v":0.58},{"r":2,"c":24,"v":0.58},{"r":2,"c":25,"v":0.58},{"r":2,"c":26,"v":0.58},{"r":2,"c":27,"v":0.58},{"r":2,"c":28,"v":0.58},{"r":2,"c":29,"v":0.58},{"r":2,"c":30,"v":0.58},{"r":2,"c":31,"v":0.58},{"r":2,"c":32,"v":0.58},{"r":2,"c":33,"v":0.58},{"r":2,"c":34,"v":0.65},{"r":2,"c":35,"v":0.65},{"r":2,"c":36,"v":0.58},{"r":2,"c":37,"v":0.58},{"r":2,"c":41,"v":0.65},{"r":2,"c":42,"v":0.58},{"r":2,"c":43,"v":0.58},{"r":2,"c":47,"v":0.58},{"r":2,"c":48,"v":0.58},{"r":2,"c":52,"v":0.55},
{"r":3,"c":0,"v":0.5},{"r":3,"c":1,"v":0.5},{"r":3,"c":2,"v":0.5},{"r":3,"c":3,"v":0.5},{"r":3,"c":4,"v":0.58},{"r":3,"c":5,"v":0.5},{"r":3,"c":6,"v":0.9},{"r":3,"c":7,"v":0.5},{"r":3,"c":8,"v":0.5},{"r":3,"c":9,"v":0.5},{"r":3,"c":10,"v":0.5},{"r":3,"c":11,"v":0.5},{"r":3,"c":12,"v":0.5},{"r":3,"c":13,"v":0.5},{"r":3,"c":14,"v":0.55},{"r":3,"c":15,"v":0.55},{"r":3,"c":16,"v":0.5},{"r":3,"c":18,"v":0.5},{"r":3,"c":19,"v":0.5},{"r":3,"c":20,"v":0.5},{"r":3,"c":21,"v":0.5},{"r":3,"c":22,"v":0.5},{"r":3,"c":23,"v":0.5},{"r":3,"c":24,"v":0.5},{"r":3,"c":25,"v":0.5},{"r":3,"c":26,"v":0.5},{"r":3,"c":27,"v":0.5},{"r":3,"c":28,"v":0.5},{"r":3,"c":29,"v":0.5},{"r":3,"c":30,"v":0.5},{"r":3,"c":31,"v":0.5},{"r":3,"c":32,"v":0.5},{"r":3,"c":33,"v":0.5},{"r":3,"c":34,"v":0.5},{"r":3,"c":35,"v":0.5},{"r":3,"c":36,"v":0.5},{"r":3,"c":37,"v":0.5},{"r":3,"c":38,"v":0.5},{"r":3,"c":39,"v":0.6},{"r":3,"c":40,"v":0.55},{"r":3,"c":41,"v":0.5},{"r":3,"c":42,"v":0.5},{"r":3,"c":43,"v":0.5},{"r":3,"c":44,"v":0.5},{"r":3,"c":45,"v":0.6},{"r":3,"c":46,"v":0.55},{"r":3,"c":47,"v":0.5},{"r":3,"c":48,"v":0.5},{"r":3,"c":49,"v":0.5},{"r":3,"c":50,"v":0.6},{"r":3,"c":51,"v":0.55},{"r":3,"c":52,"v":0.5},
{"r":4,"c":0,"v":0.55},{"r":4,"c":1,"v":0.55},{"r":4,"c":2,"v":0.5},{"r":4,"c":3,"v":0.5},{"r":4,"c":4,"v":0.5},{"r":4,"c":5,"v":0.58},{"r":4,"c":6,"v":0.5},{"r":4,"c":7,"v":0.5},{"r":4,"c":8,"v":0.5},{"r":4,"c":9,"v":0.5},{"r":4,"c":11,"v":0.5},{"r":4,"c":12,"v":0.5},{"r":4,"c":13,"v":0.5},{"r":4,"c":14,"v":0.5},{"r":4,"c":15,"v":0.5},{"r":4,"c":16,"v":0.56},{"r":4,"c":17,"v":0.5},{"r":4,"c":18,"v":0.5},{"r":4,"c":19,"v":0.5},{"r":4,"c":20,"v":0.5},{"r":4,"c":21,"v":0.62},{"r":4,"c":22,"v":0.55},{"r":4,"c":23,"v":0.55},{"r":4,"c":24,"v":0.5},{"r":4,"c":25,"v":0.5},{"r":4,"c":26,"v":0.62},{"r":4,"c":27,"v":0.55},{"r":4,"c":28,"v":0.5},{"r":4,"c":29,"v":0.5},{"r":4,"c":30,"v":0.62},{"r":4,"c":31,"v":0.55},{"r":4,"c":32,"v":0.5},{"r":4,"c":33,"v":0.5},{"r":4,"c":34,"v":0.58},{"r":4,"c":35,"v":0.6},{"r":4,"c":36,"v":0.52},{"r":4,"c":37,"v":0.55},{"r":4,"c":38,"v":0.5},{"r":4,"c":39,"v":0.6},{"r":4,"c":40,"v":0.5},{"r":4,"c":41,"v":0.6},{"r":4,"c":42,"v":0.52},{"r":4,"c":43,"v":0.55},{"r":4,"c":44,"v":0.5},{"r":4,"c":45,"v":0.6},{"r":4,"c":46,"v":0.5},{"r":4,"c":47,"v":0.53},{"r":4,"c":48,"v":0.53},{"r":4,"c":49,"v":0.5},{"r":4,"c":50,"v":0.62},{"r":4,"c":51,"v":0.5},{"r":4,"c":52,"v":0.5},
{"r":5,"c":0,"v":0.5},{"r":5,"c":1,"v":0.68},{"r":5,"c":3,"v":0.5},{"r":5,"c":4,"v":0.5},{"r":5,"c":5,"v":0.5},{"r":5,"c":7,"v":0.5},{"r":5,"c":9,"v":0.5},{"r":5,"c":20,"v":0.55},{"r":5,"c":21,"v":0.62},{"r":5,"c":22,"v":0.55},{"r":5,"c":23,"v":0.5},{"r":5,"c":25,"v":0.55},{"r":5,"c":26,"v":0.62},{"r":5,"c":27,"v":0.55},{"r":5,"c":28,"v":0.5},{"r":5,"c":30,"v":0.62},{"r":5,"c":31,"v":0.55},{"r":5,"c":32,"v":0.5},{"r":5,"c":34,"v":0.58},{"r":5,"c":35,"v":0.6},{"r":5,"c":36,"v":0.53},{"r":5,"c":37,"v":0.5},{"r":5,"c":38,"v":0.5},{"r":5,"c":41,"v":0.6},{"r":5,"c":42,"v":0.5},{"r":5,"c":43,"v":0.5},{"r":5,"c":44,"v":0.5},{"r":5,"c":47,"v":0.5},{"r":5,"c":48,"v":0.5},{"r":5,"c":49,"v":0.5},{"r":5,"c":52,"v":0.55},
{"r":6,"c":0,"v":0.5},{"r":6,"c":1,"v":0.5},{"r":6,"c":2,"v":0.5},{"r":6,"c":3,"v":0.5},{"r":6,"c":7,"v":0.5},{"r":6,"c":8,"v":0.5},{"r":6,"c":9,"v":0.5},{"r":6,"c":10,"v":0.5},{"r":6,"c":12,"v":0.5},{"r":6,"c":13,"v":0.5},{"r":6,"c":14,"v":0.62},{"r":6,"c":15,"v":0.85},{"r":6,"c":18,"v":0.5},{"r":6,"c":19,"v":0.5},{"r":6,"c":20,"v":0.5},{"r":6,"c":22,"v":0.5},{"r":6,"c":23,"v":0.5},{"r":6,"c":24,"v":0.5},{"r":6,"c":25,"v":0.5},{"r":6,"c":27,"v":0.5},{"r":6,"c":28,"v":0.5},{"r":6,"c":29,"v":0.5},{"r":6,"c":31,"v":0.5},{"r":6,"c":32,"v":0.5},{"r":6,"c":33,"v":0.5},{"r":6,"c":34,"v":0.5},{"r":6,"c":35,"v":0.5},{"r":6,"c":36,"v":0.5},{"r":6,"c":37,"v":0.5},{"r":6,"c":38,"v":0.5},{"r":6,"c":39,"v":0.5},{"r":6,"c":40,"v":0.5},{"r":6,"c":41,"v":0.5},{"r":6,"c":42,"v":0.5},{"r":6,"c":43,"v":0.5},{"r":6,"c":44,"v":0.5},{"r":6,"c":45,"v":0.5},{"r":6,"c":46,"v":0.5},{"r":6,"c":47,"v":0.5},{"r":6,"c":48,"v":0.5},{"r":6,"c":49,"v":0.5},{"r":6,"c":50,"v":0.5},{"r":6,"c":51,"v":0.5},{"r":6,"c":52,"v":0.5},
{"r":7,"c":0,"v":0.5},{"r":7,"c":1,"v":0.53},{"r":7,"c":2,"v":0.5},{"r":7,"c":3,"v":0.5},{"r":7,"c":4,"v":0.55},{"r":7,"c":7,"v":0.5},{"r":7,"c":8,"v":0.5},{"r":7,"c":20,"v":0.55},{"r":7,"c":21,"v":0.5},{"r":7,"c":22,"v":0.5},{"r":7,"c":23,"v":0.5},{"r":7,"c":25,"v":0.53},{"r":7,"c":26,"v":0.5},{"r":7,"c":27,"v":0.5},{"r":7,"c":28,"v":0.5},{"r":7,"c":30,"v":0.5},{"r":7,"c":31,"v":0.5},{"r":7,"c":32,"v":0.5},{"r":7,"c":34,"v":0.5},{"r":7,"c":35,"v":0.5},{"r":7,"c":36,"v":0.53},{"r":7,"c":37,"v":0.5},{"r":7,"c":41,"v":0.53},{"r":7,"c":42,"v":0.5},{"r":7,"c":43,"v":0.5},{"r":7,"c":47,"v":0.5},{"r":7,"c":48,"v":0.5},{"r":7,"c":52,"v":0.55},
{"r":8,"c":0,"v":0.5},{"r":8,"c":1,"v":0.5},{"r":8,"c":7,"v":0.5},{"r":8,"c":8,"v":0.5},{"r":8,"c":9,"v":0.5},{"r":8,"c":11,"v":0.5},{"r":8,"c":15,"v":0.5},{"r":8,"c":16,"v":0.58},{"r":8,"c":17,"v":0.5},{"r":8,"c":19,"v":0.5},{"r":8,"c":20,"v":0.5},{"r":8,"c":23,"v":0.5},{"r":8,"c":24,"v":0.5},{"r":8,"c":28,"v":0.5},{"r":8,"c":29,"v":0.5},{"r":8,"c":32,"v":0.5},{"r":8,"c":33,"v":0.5},{"r":8,"c":34,"v":0.5},{"r":8,"c":35,"v":0.5},{"r":8,"c":38,"v":0.5},{"r":8,"c":39,"v":0.53},{"r":8,"c":41,"v":0.5},{"r":8,"c":44,"v":0.5},{"r":8,"c":45,"v":0.5},{"r":8,"c":49,"v":0.5},{"r":8,"c":50,"v":0.53},{"r":8,"c":52,"v":0.5},
{"r":9,"c":2,"v":0.5},{"r":9,"c":3,"v":0.5},{"r":9,"c":4,"v":0.5},{"r":9,"c":6,"v":0.5},{"r":9,"c":7,"v":0.5},{"r":9,"c":8,"v":0.5},{"r":9,"c":10,"v":0.5},{"r":9,"c":23,"v":0.5},{"r":9,"c":24,"v":0.5},{"r":9,"c":28,"v":0.5},{"r":9,"c":29,"v":0.5},{"r":9,"c":32,"v":0.5},{"r":9,"c":33,"v":0.5},{"r":9,"c":37,"v":0.5},{"r":9,"c":43,"v":0.5},{"r":9,"c":48,"v":0.5},
{"r":10,"c":0,"v":0.5},{"r":10,"c":1,"v":0.53},{"r":10,"c":2,"v":0.5},{"r":10,"c":4,"v":0.5},{"r":10,"c":6,"v":0.5},{"r":10,"c":7,"v":0.5},{"r":10,"c":9,"v":0.5},{"r":10,"c":12,"v":0.5},{"r":10,"c":14,"v":0.5},{"r":10,"c":15,"v":0.5},{"r":10,"c":16,"v":0.5},{"r":10,"c":18,"v":0.5},{"r":10,"c":19,"v":0.5},{"r":10,"c":20,"v":0.5},{"r":10,"c":21,"v":0.53},{"r":10,"c":22,"v":0.53},{"r":10,"c":25,"v":0.5},{"r":10,"c":26,"v":0.53},{"r":10,"c":27,"v":0.5},{"r":10,"c":30,"v":0.5},{"r":10,"c":31,"v":0.5},{"r":10,"c":34,"v":0.5},{"r":10,"c":35,"v":0.5},{"r":10,"c":36,"v":0.5},{"r":10,"c":39,"v":0.5},{"r":10,"c":40,"v":0.5},{"r":10,"c":41,"v":0.5},{"r":10,"c":42,"v":0.5},{"r":10,"c":45,"v":0.5},{"r":10,"c":46,"v":0.5},{"r":10,"c":47,"v":0.5},{"r":10,"c":50,"v":0.5},{"r":10,"c":51,"v":0.5},{"r":10,"c":52,"v":0.5},
{"r":11,"c":14,"v":0.58},{"r":11,"c":15,"v":0.5},{"r":11,"c":40,"v":0.5},{"r":11,"c":46,"v":0.5},{"r":11,"c":51,"v":0.5},
{"r":12,"c":0,"v":0.5},{"r":12,"c":1,"v":0.5},{"r":12,"c":2,"v":0.5},{"r":12,"c":7,"v":0.5},{"r":12,"c":8,"v":0.5},{"r":12,"c":9,"v":0.5},{"r":12,"c":11,"v":0.5},{"r":12,"c":13,"v":0.5},{"r":12,"c":16,"v":0.5},{"r":12,"c":17,"v":0.5},{"r":12,"c":18,"v":0.5},{"r":12,"c":20,"v":0.5},{"r":12,"c":21,"v":0.5},{"r":12,"c":22,"v":0.5},{"r":12,"c":23,"v":0.5},{"r":12,"c":25,"v":0.5},{"r":12,"c":26,"v":0.5},{"r":12,"c":27,"v":0.5},{"r":12,"c":28,"v":0.5},{"r":12,"c":30,"v":0.5},{"r":12,"c":31,"v":0.5},{"r":12,"c":32,"v":0.5},{"r":12,"c":37,"v":0.5},{"r":12,"c":38,"v":0.5},{"r":12,"c":39,"v":0.5},{"r":12,"c":43,"v":0.5},{"r":12,"c":44,"v":0.5},{"r":12,"c":45,"v":0.5},{"r":12,"c":48,"v":0.5},{"r":12,"c":49,"v":0.5},{"r":12,"c":50,"v":0.5},{"r":12,"c":52,"v":0.5},
{"r":13,"c":0,"v":0.5},{"r":13,"c":1,"v":0.5},{"r":13,"c":2,"v":0.5},{"r":13,"c":4,"v":0.5},{"r":13,"c":5,"v":0.5},{"r":13,"c":6,"v":0.5},{"r":13,"c":9,"v":0.5},{"r":13,"c":11,"v":0.5},{"r":13,"c":13,"v":0.5},{"r":13,"c":14,"v":0.5},{"r":13,"c":15,"v":0.5},{"r":13,"c":16,"v":0.5},{"r":13,"c":17,"v":0.5},{"r":13,"c":18,"v":0.5},{"r":13,"c":19,"v":0.5},{"r":13,"c":34,"v":0.5},{"r":13,"c":35,"v":0.5},{"r":13,"c":36,"v":0.5},{"r":13,"c":41,"v":0.5},{"r":13,"c":42,"v":0.5},{"r":13,"c":47,"v":0.5},
{"r":14,"c":2,"v":0.5},{"r":14,"c":3,"v":0.5},{"r":14,"c":4,"v":0.5},{"r":14,"c":6,"v":0.5},{"r":14,"c":7,"v":0.5},{"r":14,"c":8,"v":0.5},{"r":14,"c":21,"v":0.5},{"r":14,"c":23,"v":0.5},{"r":14,"c":24,"v":0.5},{"r":14,"c":26,"v":0.5},{"r":14,"c":28,"v":0.5},{"r":14,"c":29,"v":0.5},{"r":14,"c":30,"v":0.5},{"r":14,"c":32,"v":0.5},{"r":14,"c":33,"v":0.5},{"r":14,"c":37,"v":0.5},{"r":14,"c":41,"v":0.5},{"r":14,"c":42,"v":0.5},{"r":14,"c":48,"v":0.5},
{"r":15,"c":0,"v":0.5},{"r":15,"c":1,"v":0.5},{"r":15,"c":3,"v":0.5},{"r":15,"c":7,"v":0.5},{"r":15,"c":8,"v":0.5},{"r":15,"c":9,"v":0.5},{"r":15,"c":10,"v":0.5},{"r":15,"c":16,"v":0.5},{"r":15,"c":20,"v":0.5},{"r":15,"c":22,"v":0.5},{"r":15,"c":23,"v":0.5},{"r":15,"c":24,"v":0.5},{"r":15,"c":25,"v":0.5},{"r":15,"c":27,"v":0.5},{"r":15,"c":28,"v":0.5},{"r":15,"c":29,"v":0.5},{"r":15,"c":31,"v":0.5},{"r":15,"c":32,"v":0.5},{"r":15,"c":33,"v":0.5},{"r":15,"c":34,"v":0.5},{"r":15,"c":35,"v":0.5},{"r":15,"c":36,"v":0.5},{"r":15,"c":37,"v":0.5},{"r":15,"c":41,"v":0.5},{"r":15,"c":42,"v":0.5},{"r":15,"c":47,"v":0.5},{"r":15,"c":48,"v":0.5},{"r":15,"c":52,"v":0.5},
{"r":16,"c":0,"v":0.5},{"r":16,"c":1,"v":0.5},{"r":16,"c":2,"v":0.5},{"r":16,"c":4,"v":0.5},{"r":16,"c":5,"v":0.5},{"r":16,"c":7,"v":0.5},{"r":16,"c":8,"v":0.5},{"r":16,"c":9,"v":0.5},{"r":16,"c":20,"v":0.5},{"r":16,"c":21,"v":0.5},{"r":16,"c":22,"v":0.5},{"r":16,"c":23,"v":0.5},{"r":16,"c":24,"v":0.5},{"r":16,"c":25,"v":0.5},{"r":16,"c":26,"v":0.5},{"r":16,"c":27,"v":0.5},{"r":16,"c":28,"v":0.5},{"r":16,"c":29,"v":0.5},{"r":16,"c":30,"v":0.5},{"r":16,"c":31,"v":0.5},{"r":16,"c":32,"v":0.5},{"r":16,"c":33,"v":0.5},{"r":16,"c":34,"v":0.5},{"r":16,"c":35,"v":0.5},{"r":16,"c":36,"v":0.52},{"r":16,"c":37,"v":0.5},{"r":16,"c":41,"v":0.5},{"r":16,"c":42,"v":0.5},{"r":16,"c":47,"v":0.5},{"r":16,"c":48,"v":0.5},
{"r":17,"c":4,"v":0.5},{"r":17,"c":6,"v":0.5},{"r":17,"c":16,"v":0.55},{"r":17,"c":39,"v":0.5},{"r":17,"c":45,"v":0.5},{"r":17,"c":51,"v":0.5},
{"r":18,"c":0,"v":0.5},{"r":18,"c":1,"v":0.5},{"r":18,"c":2,"v":0.5},{"r":18,"c":4,"v":0.5},{"r":18,"c":6,"v":0.5},{"r":18,"c":7,"v":0.5},{"r":18,"c":8,"v":0.5},{"r":18,"c":9,"v":0.5},{"r":18,"c":10,"v":0.5},{"r":18,"c":20,"v":0.5},{"r":18,"c":23,"v":0.5},{"r":18,"c":24,"v":0.5},{"r":18,"c":25,"v":0.5},{"r":18,"c":28,"v":0.5},{"r":18,"c":29,"v":0.5},{"r":18,"c":30,"v":0.5},{"r":18,"c":33,"v":0.5},{"r":18,"c":34,"v":0.5},{"r":18,"c":36,"v":0.5},{"r":18,"c":37,"v":0.5},{"r":18,"c":42,"v":0.5},{"r":18,"c":43,"v":0.5},{"r":18,"c":48,"v":0.5},{"r":18,"c":49,"v":0.5},
{"r":19,"c":0,"v":0.5},{"r":19,"c":1,"v":0.5},{"r":19,"c":2,"v":0.5},{"r":19,"c":3,"v":0.5},{"r":19,"c":5,"v":0.5},{"r":19,"c":7,"v":0.5},{"r":19,"c":9,"v":0.5},{"r":19,"c":20,"v":0.5},{"r":19,"c":21,"v":0.5},{"r":19,"c":23,"v":0.5},{"r":19,"c":24,"v":0.5},{"r":19,"c":25,"v":0.5},{"r":19,"c":27,"v":0.5},{"r":19,"c":28,"v":0.5},{"r":19,"c":29,"v":0.5},{"r":19,"c":30,"v":0.5},{"r":19,"c":31,"v":0.5},{"r":19,"c":33,"v":0.5},{"r":19,"c":34,"v":0.5},{"r":19,"c":35,"v":0.5},{"r":19,"c":37,"v":0.5},{"r":19,"c":42,"v":0.5},{"r":19,"c":46,"v":0.5},{"r":19,"c":47,"v":0.5},{"r":19,"c":49,"v":0.5},
{"r":20,"c":2,"v":0.5},{"r":20,"c":4,"v":0.5},{"r":20,"c":5,"v":0.5},{"r":20,"c":6,"v":0.5},{"r":20,"c":9,"v":0.5},{"r":20,"c":21,"v":0.5},{"r":20,"c":22,"v":0.5},{"r":20,"c":23,"v":0.5},{"r":20,"c":24,"v":0.5},{"r":20,"c":25,"v":0.5},{"r":20,"c":26,"v":0.5},{"r":20,"c":27,"v":0.5},{"r":20,"c":28,"v":0.5},{"r":20,"c":29,"v":0.5},{"r":20,"c":31,"v":0.5},{"r":20,"c":32,"v":0.5},{"r":20,"c":33,"v":0.5},{"r":20,"c":34,"v":0.5},{"r":20,"c":35,"v":0.5},{"r":20,"c":36,"v":0.5},{"r":20,"c":37,"v":0.5},{"r":20,"c":41,"v":0.5},{"r":20,"c":42,"v":0.5},{"r":20,"c":46,"v":0.5},{"r":20,"c":47,"v":0.5},{"r":20,"c":48,"v":0.5},{"r":20,"c":49,"v":0.5},
{"r":21,"c":16,"v":0.5},{"r":21,"c":17,"v":0.5},{"r":21,"c":19,"v":0.5},{"r":21,"c":39,"v":0.55},{"r":21,"c":44,"v":0.55},{"r":21,"c":51,"v":0.55},
{"r":22,"c":1,"v":0.5},{"r":22,"c":9,"v":0.5},{"r":22,"c":11,"v":0.5},{"r":22,"c":15,"v":0.5},{"r":22,"c":18,"v":0.5},{"r":22,"c":19,"v":0.5},{"r":22,"c":23,"v":0.5},{"r":22,"c":24,"v":0.5},{"r":22,"c":27,"v":0.5},{"r":22,"c":28,"v":0.5},{"r":22,"c":33,"v":0.5},{"r":22,"c":34,"v":0.5},{"r":22,"c":36,"v":0.55},{"r":22,"c":41,"v":0.5},{"r":22,"c":48,"v":0.5},
{"r":23,"c":0,"v":0.5},{"r":23,"c":1,"v":0.5},{"r":23,"c":2,"v":0.5},{"r":23,"c":3,"v":0.5},{"r":23,"c":6,"v":0.5},{"r":23,"c":8,"v":0.5},{"r":23,"c":9,"v":0.5},{"r":23,"c":11,"v":0.5},{"r":23,"c":17,"v":0.5},{"r":23,"c":18,"v":0.5},{"r":23,"c":20,"v":0.5},{"r":23,"c":21,"v":0.5},{"r":23,"c":22,"v":0.5},{"r":23,"c":23,"v":0.5},{"r":23,"c":25,"v":0.5},{"r":23,"c":26,"v":0.5},{"r":23,"c":27,"v":0.5},{"r":23,"c":29,"v":0.5},{"r":23,"c":30,"v":0.5},{"r":23,"c":31,"v":0.5},{"r":23,"c":32,"v":0.5},{"r":23,"c":33,"v":0.5},{"r":23,"c":35,"v":0.5},{"r":23,"c":46,"v":0.5},{"r":23,"c":47,"v":0.5},
{"r":24,"c":4,"v":0.5},{"r":24,"c":6,"v":0.5},{"r":24,"c":7,"v":0.5},{"r":24,"c":10,"v":0.5},{"r":24,"c":20,"v":0.5},{"r":24,"c":21,"v":0.5},{"r":24,"c":24,"v":0.5},{"r":24,"c":25,"v":0.5},{"r":24,"c":28,"v":0.5},{"r":24,"c":30,"v":0.5},{"r":24,"c":31,"v":0.5},{"r":24,"c":34,"v":0.5},{"r":24,"c":36,"v":0.5},{"r":24,"c":37,"v":0.5},{"r":24,"c":41,"v":0.5},{"r":24,"c":42,"v":0.5},{"r":24,"c":45,"v":0.5},{"r":24,"c":48,"v":0.5},{"r":24,"c":49,"v":0.5},
{"r":25,"c":2,"v":0.5},{"r":25,"c":3,"v":0.5},{"r":25,"c":6,"v":0.5},{"r":25,"c":8,"v":0.5},{"r":25,"c":12,"v":0.5},{"r":25,"c":14,"v":0.5},{"r":25,"c":15,"v":0.5},{"r":25,"c":17,"v":0.5},{"r":25,"c":23,"v":0.5},{"r":25,"c":24,"v":0.5},{"r":25,"c":27,"v":0.5},{"r":25,"c":28,"v":0.5},{"r":25,"c":33,"v":0.5},{"r":25,"c":34,"v":0.5},{"r":25,"c":38,"v":0.5},{"r":25,"c":43,"v":0.5},{"r":25,"c":50,"v":0.5},
{"r":26,"c":0,"v":0.5},{"r":26,"c":1,"v":0.5},{"r":26,"c":2,"v":0.5},{"r":26,"c":3,"v":0.5},{"r":26,"c":4,"v":0.5},{"r":26,"c":5,"v":0.5},{"r":26,"c":6,"v":0.5},{"r":26,"c":7,"v":0.5},{"r":26,"c":8,"v":0.5},{"r":26,"c":9,"v":0.5},{"r":26,"c":10,"v":0.5},{"r":26,"c":11,"v":0.5},{"r":26,"c":12,"v":0.5},{"r":26,"c":13,"v":0.5},{"r":26,"c":14,"v":0.5},{"r":26,"c":15,"v":0.5},{"r":26,"c":16,"v":0.5},{"r":26,"c":17,"v":0.5},{"r":26,"c":18,"v":0.5},{"r":26,"c":19,"v":0.5},{"r":26,"c":20,"v":0.5},{"r":26,"c":21,"v":0.5},{"r":26,"c":23,"v":0.5},{"r":26,"c":24,"v":0.5},{"r":26,"c":25,"v":0.5},{"r":26,"c":27,"v":0.5},{"r":26,"c":28,"v":0.5},{"r":26,"c":29,"v":0.5},{"r":26,"c":30,"v":0.5},{"r":26,"c":31,"v":0.5},{"r":26,"c":33,"v":0.5},{"r":26,"c":34,"v":0.5},{"r":26,"c":35,"v":0.5},{"r":26,"c":36,"v":0.5},{"r":26,"c":37,"v":0.5},{"r":26,"c":38,"v":0.5},{"r":26,"c":39,"v":0.5},{"r":26,"c":40,"v":0.5},{"r":26,"c":41,"v":0.5},{"r":26,"c":42,"v":0.5},{"r":26,"c":43,"v":0.5},{"r":26,"c":44,"v":0.5},{"r":26,"c":45,"v":0.5},{"r":26,"c":46,"v":0.5},{"r":26,"c":47,"v":0.5},{"r":26,"c":48,"v":0.5},{"r":26,"c":49,"v":0.5},{"r":26,"c":50,"v":0.5},{"r":26,"c":51,"v":0.5},{"r":26,"c":52,"v":0.5},
{"r":27,"c":1,"v":0.5},{"r":27,"c":4,"v":0.5},{"r":27,"c":5,"v":0.5},{"r":27,"c":9,"v":0.5},{"r":27,"c":12,"v":0.5},{"r":27,"c":13,"v":0.5},{"r":27,"c":20,"v":0.5},{"r":27,"c":21,"v":0.5},{"r":27,"c":23,"v":0.5},{"r":27,"c":24,"v":0.5},{"r":27,"c":25,"v":0.5},{"r":27,"c":27,"v":0.5},{"r":27,"c":28,"v":0.5},{"r":27,"c":30,"v":0.5},{"r":27,"c":31,"v":0.5},{"r":27,"c":33,"v":0.5},{"r":27,"c":34,"v":0.5},{"r":27,"c":40,"v":0.5},{"r":27,"c":45,"v":0.5},{"r":27,"c":46,"v":0.5},{"r":27,"c":52,"v":0.5},
{"r":28,"c":0,"v":0.5},{"r":28,"c":1,"v":0.5},{"r":28,"c":2,"v":0.5},{"r":28,"c":9,"v":0.5},{"r":28,"c":11,"v":0.5},{"r":28,"c":13,"v":0.5},{"r":28,"c":14,"v":0.5},{"r":28,"c":15,"v":0.5},{"r":28,"c":16,"v":0.5},{"r":28,"c":18,"v":0.5},{"r":28,"c":19,"v":0.5},{"r":28,"c":22,"v":0.5},{"r":28,"c":23,"v":0.5},{"r":28,"c":26,"v":0.5},{"r":28,"c":27,"v":0.5},{"r":28,"c":29,"v":0.5},{"r":28,"c":32,"v":0.5},{"r":28,"c":33,"v":0.5},{"r":28,"c":35,"v":0.5},{"r":28,"c":36,"v":0.5},{"r":28,"c":40,"v":0.5},{"r":28,"c":41,"v":0.5},{"r":28,"c":45,"v":0.5},{"r":28,"c":47,"v":0.5},{"r":28,"c":48,"v":0.5},{"r":28,"c":52,"v":0.5},
{"r":29,"c":0,"v":0.5},{"r":29,"c":1,"v":0.5},{"r":29,"c":2,"v":0.5},{"r":29,"c":3,"v":0.5},{"r":29,"c":4,"v":0.5},{"r":29,"c":5,"v":0.5},{"r":29,"c":6,"v":0.5},{"r":29,"c":7,"v":0.5},{"r":29,"c":8,"v":0.5},{"r":29,"c":9,"v":0.5},{"r":29,"c":10,"v":0.5},{"r":29,"c":11,"v":0.5},{"r":29,"c":12,"v":0.5},{"r":29,"c":13,"v":0.5},{"r":29,"c":14,"v":0.5},{"r":29,"c":15,"v":0.5},{"r":29,"c":16,"v":0.5},{"r":29,"c":17,"v":0.5},{"r":29,"c":18,"v":0.5},{"r":29,"c":19,"v":0.5},{"r":29,"c":20,"v":0.5},{"r":29,"c":21,"v":0.5},{"r":29,"c":22,"v":0.5},{"r":29,"c":23,"v":0.5},{"r":29,"c":24,"v":0.5},{"r":29,"c":25,"v":0.5},{"r":29,"c":26,"v":0.5},{"r":29,"c":27,"v":0.5},{"r":29,"c":28,"v":0.5},{"r":29,"c":29,"v":0.5},{"r":29,"c":30,"v":0.5},{"r":29,"c":31,"v":0.5},{"r":29,"c":32,"v":0.5},{"r":29,"c":33,"v":0.5},{"r":29,"c":34,"v":0.5},{"r":29,"c":35,"v":0.5},{"r":29,"c":36,"v":0.5},{"r":29,"c":37,"v":0.5},{"r":29,"c":38,"v":0.5},{"r":29,"c":39,"v":0.5},{"r":29,"c":40,"v":0.5},{"r":29,"c":41,"v":0.5},{"r":29,"c":42,"v":0.5},{"r":29,"c":43,"v":0.5},{"r":29,"c":44,"v":0.5},{"r":29,"c":45,"v":0.5},{"r":29,"c":46,"v":0.5},{"r":29,"c":47,"v":0.5},{"r":29,"c":48,"v":0.5},{"r":29,"c":49,"v":0.5},{"r":29,"c":50,"v":0.5},{"r":29,"c":51,"v":0.5},{"r":29,"c":52,"v":0.5},
{"r":30,"c":9,"v":0.5},{"r":30,"c":19,"v":0.5},{"r":30,"c":21,"v":0.5},{"r":30,"c":25,"v":0.5},{"r":30,"c":31,"v":0.5},{"r":30,"c":39,"v":0.5},{"r":30,"c":44,"v":0.5},{"r":30,"c":46,"v":0.5},{"r":30,"c":51,"v":0.5},
{"r":31,"c":14,"v":0.5},{"r":31,"c":15,"v":0.5},
{"r":32,"c":0,"v":0.5},{"r":32,"c":1,"v":0.5},{"r":32,"c":2,"v":0.5},{"r":32,"c":3,"v":0.5},{"r":32,"c":4,"v":0.5},{"r":32,"c":6,"v":0.5},{"r":32,"c":7,"v":0.5},{"r":32,"c":9,"v":0.5},{"r":32,"c":10,"v":0.5},{"r":32,"c":16,"v":0.5},{"r":32,"c":23,"v":0.5},{"r":32,"c":24,"v":0.5},{"r":32,"c":27,"v":0.5},{"r":32,"c":28,"v":0.5},{"r":32,"c":33,"v":0.5},{"r":32,"c":34,"v":0.5},{"r":32,"c":37,"v":0.5},{"r":32,"c":42,"v":0.5},{"r":32,"c":49,"v":0.5},
{"r":33,"c":12,"v":0.5},{"r":33,"c":13,"v":0.5},{"r":33,"c":14,"v":0.5},{"r":33,"c":21,"v":0.5},{"r":33,"c":25,"v":0.5},{"r":33,"c":31,"v":0.5},{"r":33,"c":40,"v":0.5},{"r":33,"c":45,"v":0.5},{"r":33,"c":46,"v":0.5},{"r":33,"c":52,"v":0.5},
{"r":34,"c":0,"v":0.5},{"r":34,"c":2,"v":0.5},{"r":34,"c":5,"v":0.5},{"r":34,"c":7,"v":0.5},{"r":34,"c":8,"v":0.5},{"r":34,"c":11,"v":0.5},{"r":34,"c":21,"v":0.5},{"r":34,"c":23,"v":0.5},{"r":34,"c":25,"v":0.5},{"r":34,"c":27,"v":0.5},{"r":34,"c":31,"v":0.5},{"r":34,"c":33,"v":0.5},{"r":34,"c":36,"v":0.5},{"r":34,"c":37,"v":0.5},{"r":34,"c":41,"v":0.5},{"r":34,"c":42,"v":0.5},{"r":34,"c":46,"v":0.5},{"r":34,"c":48,"v":0.5},{"r":34,"c":49,"v":0.5},
{"r":35,"c":0,"v":0.5},{"r":35,"c":2,"v":0.5},{"r":35,"c":3,"v":0.5},{"r":35,"c":6,"v":0.5},{"r":35,"c":7,"v":0.5},{"r":35,"c":9,"v":0.5},{"r":35,"c":20,"v":0.5},{"r":35,"c":30,"v":0.5},
{"r":36,"c":0,"v":0.5},{"r":36,"c":1,"v":0.5},{"r":36,"c":2,"v":0.5},{"r":36,"c":3,"v":0.5},{"r":36,"c":4,"v":0.5},{"r":36,"c":5,"v":0.5},{"r":36,"c":7,"v":0.5},{"r":36,"c":8,"v":0.5},{"r":36,"c":9,"v":0.5},{"r":36,"c":11,"v":0.5},{"r":36,"c":12,"v":0.5},{"r":36,"c":13,"v":0.5},{"r":36,"c":14,"v":0.5},{"r":36,"c":15,"v":0.5},{"r":36,"c":16,"v":0.5},{"r":36,"c":19,"v":0.5},{"r":36,"c":20,"v":0.5},{"r":36,"c":21,"v":0.5},{"r":36,"c":22,"v":0.5},{"r":36,"c":23,"v":0.5},{"r":36,"c":24,"v":0.5},{"r":36,"c":25,"v":0.5},{"r":36,"c":26,"v":0.5},{"r":36,"c":27,"v":0.5},{"r":36,"c":28,"v":0.5},{"r":36,"c":29,"v":0.5},{"r":36,"c":30,"v":0.5},{"r":36,"c":31,"v":0.5},{"r":36,"c":32,"v":0.5},{"r":36,"c":33,"v":0.5},{"r":36,"c":34,"v":0.5},{"r":36,"c":35,"v":0.5},{"r":36,"c":36,"v":0.5},{"r":36,"c":37,"v":0.5},{"r":36,"c":38,"v":0.5},{"r":36,"c":39,"v":0.5},{"r":36,"c":41,"v":0.5},{"r":36,"c":42,"v":0.5},{"r":36,"c":43,"v":0.5},{"r":36,"c":44,"v":0.5},{"r":36,"c":45,"v":0.5},{"r":36,"c":47,"v":0.5},{"r":36,"c":48,"v":0.5},{"r":36,"c":49,"v":0.5},{"r":36,"c":50,"v":0.5},{"r":36,"c":51,"v":0.5},
{"r":37,"c":0,"v":0.5},{"r":37,"c":9,"v":0.5},{"r":37,"c":20,"v":0.5},{"r":37,"c":25,"v":0.5},{"r":37,"c":30,"v":0.5},{"r":37,"c":38,"v":0.5},{"r":37,"c":44,"v":0.5},{"r":37,"c":50,"v":0.5},
{"r":38,"c":0,"v":0.5},{"r":38,"c":20,"v":0.5},{"r":38,"c":25,"v":0.5},{"r":38,"c":30,"v":0.5},{"r":38,"c":36,"v":0.5},{"r":38,"c":42,"v":0.5},{"r":38,"c":48,"v":0.5},
{"r":39,"c":2,"v":0.5},{"r":39,"c":37,"v":0.5},{"r":39,"c":43,"v":0.5},{"r":39,"c":49,"v":0.5},
{"r":40,"c":2,"v":0.5},{"r":40,"c":13,"v":0.5},{"r":40,"c":24,"v":0.5},{"r":40,"c":29,"v":0.5},{"r":40,"c":34,"v":0.5},
{"r":41,"c":1,"v":0.5},
{"r":42,"c":0,"v":0.5},{"r":42,"c":1,"v":0.5},{"r":42,"c":2,"v":0.5},{"r":42,"c":3,"v":0.5},{"r":42,"c":4,"v":0.5},{"r":42,"c":5,"v":0.5},{"r":42,"c":6,"v":0.5},{"r":42,"c":7,"v":0.5},{"r":42,"c":8,"v":0.5},{"r":42,"c":9,"v":0.5},{"r":42,"c":20,"v":0.5},{"r":42,"c":21,"v":0.5},{"r":42,"c":22,"v":0.5},{"r":42,"c":23,"v":0.5},{"r":42,"c":24,"v":0.5},{"r":42,"c":25,"v":0.5},{"r":42,"c":26,"v":0.5},{"r":42,"c":27,"v":0.5},{"r":42,"c":28,"v":0.5},{"r":42,"c":29,"v":0.5},{"r":42,"c":30,"v":0.5},{"r":42,"c":31,"v":0.5},{"r":42,"c":32,"v":0.5},{"r":42,"c":33,"v":0.5},{"r":42,"c":34,"v":0.5},{"r":42,"c":35,"v":0.5},{"r":42,"c":36,"v":0.5},{"r":42,"c":37,"v":0.5},{"r":42,"c":41,"v":0.5},{"r":42,"c":42,"v":0.5},{"r":42,"c":43,"v":0.5},{"r":42,"c":47,"v":0.5},{"r":42,"c":48,"v":0.5},{"r":42,"c":49,"v":0.5},
{"r":43,"c":8,"v":0.5},{"r":43,"c":23,"v":0.5},{"r":43,"c":24,"v":0.5},{"r":43,"c":28,"v":0.5},{"r":43,"c":29,"v":0.5},{"r":43,"c":33,"v":0.5},{"r":43,"c":34,"v":0.5},
{"r":44,"c":0,"v":0.5},{"r":44,"c":1,"v":0.5},{"r":44,"c":2,"v":0.5},{"r":44,"c":3,"v":0.5},{"r":44,"c":4,"v":0.5},{"r":44,"c":5,"v":0.5},{"r":44,"c":6,"v":0.5},{"r":44,"c":7,"v":0.5},{"r":44,"c":8,"v":0.5},{"r":44,"c":9,"v":0.5},{"r":44,"c":20,"v":0.5},{"r":44,"c":21,"v":0.5},{"r":44,"c":22,"v":0.5},{"r":44,"c":23,"v":0.5},{"r":44,"c":24,"v":0.5},{"r":44,"c":25,"v":0.5},{"r":44,"c":26,"v":0.5},{"r":44,"c":27,"v":0.5},{"r":44,"c":28,"v":0.5},{"r":44,"c":29,"v":0.5},{"r":44,"c":30,"v":0.5},{"r":44,"c":31,"v":0.5},{"r":44,"c":32,"v":0.5},{"r":44,"c":33,"v":0.5},{"r":44,"c":34,"v":0.5},{"r":44,"c":35,"v":0.5},{"r":44,"c":36,"v":0.5},{"r":44,"c":37,"v":0.5},{"r":44,"c":41,"v":0.5},{"r":44,"c":42,"v":0.5},{"r":44,"c":43,"v":0.5},{"r":44,"c":47,"v":0.5},{"r":44,"c":48,"v":0.5},{"r":44,"c":49,"v":0.5},
{"r":45,"c":14,"v":0.5},{"r":45,"c":40,"v":0.5},{"r":45,"c":46,"v":0.5},{"r":45,"c":52,"v":0.5},
{"r":46,"c":0,"v":0.5},{"r":46,"c":9,"v":0.5},{"r":46,"c":16,"v":0.5},{"r":46,"c":17,"v":0.5},{"r":46,"c":19,"v":0.5},{"r":46,"c":23,"v":0.5},{"r":46,"c":28,"v":0.5},{"r":46,"c":33,"v":0.5},{"r":46,"c":35,"v":0.5},{"r":46,"c":39,"v":0.5},{"r":46,"c":41,"v":0.5},{"r":46,"c":45,"v":0.5},{"r":46,"c":47,"v":0.5},{"r":46,"c":51,"v":0.5},
{"r":47,"c":22,"v":0.5},{"r":47,"c":27,"v":0.5},{"r":47,"c":32,"v":0.5},{"r":47,"c":35,"v":0.5},{"r":47,"c":41,"v":0.5},{"r":47,"c":47,"v":0.5},
{"r":48,"c":23,"v":0.5},{"r":48,"c":28,"v":0.5},{"r":48,"c":33,"v":0.5},
{"r":49,"c":3,"v":0.5},{"r":49,"c":21,"v":0.5},{"r":49,"c":26,"v":0.5},{"r":49,"c":31,"v":0.5}
],
"legend":[{"v":0,"t":"0","a":-13.54,"b":-4.26,"y0":3.45,"y1":4.45,"ly":4.22},{"v":0.1,"t":"0.1","a":-13.54,"b":-4.26,"y0":4.45,"y1":5.45,"ly":5.21},{"v":0.2,"t":"0.2","a":-13.54,"b":-4.26,"y0":5.45,"y1":6.45,"ly":6.2},{"v":0.3,"t":"0.3","a":-13.54,"b":-4.26,"y0":6.45,"y1":7.45,"ly":7.2},{"v":0.4,"t":"0.4","a":-13.54,"b":-4.26,"y0":7.45,"y1":8.45,"ly":8.19},{"v":0.5,"t":"0.5","a":-13.54,"b":-4.26,"y0":8.45,"y1":9.45,"ly":9.18},{"v":0.6,"t":"0.6","a":-13.54,"b":-4.26,"y0":9.45,"y1":10.45,"ly":10.17},{"v":0.7,"t":"0.7","a":-13.54,"b":-4.26,"y0":10.45,"y1":11.45,"ly":11.16},{"v":0.8,"t":"0.8","a":-13.54,"b":-4.26,"y0":11.45,"y1":12.45,"ly":12.16},{"v":0.9,"t":"0.9","a":-13.54,"b":-4.26,"y0":12.45,"y1":13.45,"ly":13.15},{"v":1,"t":"1","a":-13.54,"b":-4.26,"y0":13.45,"y1":14.45,"ly":14.14}]
},
"vconcat":[
{"width":798,"height":820,
"layer":[
{"data":{"name":"polar"},"transform":[{"filter":"datum.id=='p'"},{"calculate":"378+datum.r*sin(datum.t*PI/180)","as":"x"},{"calculate":"418-0.93*datum.r*cos(datum.t*PI/180)","as":"y"}],"mark":{"type":"line","fill":"#fbd9bf","stroke":"#f0cdb3","strokeWidth":0.5},"encoding":{"x":{"field":"x","type":"quantitative","scale":{"domain":[0,798],"range":[0,798],"nice":false},"axis":null},"y":{"field":"y","type":"quantitative","scale":{"domain":[0,820],"range":[0,820],"nice":false,"zero":false},"axis":null},"order":{"field":"o"}}},
{"data":{"name":"polar"},"transform":[{"filter":"datum.id=='b'"},{"calculate":"378+datum.r*sin(datum.t*PI/180)","as":"x"},{"calculate":"418-0.93*datum.r*cos(datum.t*PI/180)","as":"y"}],"mark":{"type":"line","fill":"#c3d9ec","stroke":"#b5cde2","strokeWidth":0.5},"encoding":{"x":{"field":"x","type":"quantitative","axis":null},"y":{"field":"y","type":"quantitative","axis":null},"order":{"field":"o"}}},
{"data":{"name":"polar"},"transform":[{"filter":"datum.id!='p'&&datum.id!='b'"},{"calculate":"378+datum.r*sin(datum.t*PI/180)","as":"x"},{"calculate":"418-0.93*datum.r*cos(datum.t*PI/180)","as":"y"}],"mark":{"type":"line","stroke":"#111","strokeWidth":0.9},"encoding":{"x":{"field":"x","type":"quantitative","axis":null},"y":{"field":"y","type":"quantitative","axis":null},"detail":{"field":"id"},"order":{"field":"o"}}},
{"data":{"name":"edges"},"mark":{"type":"rule","stroke":"#111","strokeWidth":0.9},"encoding":{"x":{"field":"x","type":"quantitative","axis":null},"y":{"field":"y","type":"quantitative","axis":null},"x2":{"field":"x2"},"y2":{"field":"y2"}}},
{"data":{"name":"nodes"},"mark":{"type":"point","shape":"circle","filled":true,"fill":"white","stroke":"#111","strokeWidth":0.8,"opacity":1,"size":50},"encoding":{"x":{"field":"x","type":"quantitative","axis":null},"y":{"field":"y","type":"quantitative","axis":null}}},
{"data":{"name":"ynodes"},"mark":{"type":"point","shape":"circle","filled":true,"fill":"#ffcb1f","opacity":1,"size":85},"encoding":{"x":{"field":"x","type":"quantitative","axis":null},"y":{"field":"y","type":"quantitative","axis":null}}},
{"data":{"name":"cells"},"transform":[{"calculate":"atan2(datum.y-418,datum.x-378)*180/PI","as":"rot"}],"mark":{"type":"point","filled":true,"opacity":1,"size":134,"shape":"M -0.62 -1 H 0.62 V 1 H -0.62 Z"},"encoding":{"x":{"field":"x","type":"quantitative","axis":null},"y":{"field":"y","type":"quantitative","axis":null},"angle":{"field":"rot","type":"quantitative","scale":null},"color":{"field":"z","type":"ordinal","scale":{"domain":[1,2,3,4,5,6,7,8,9],"range":["#fff200","#ff8400","#ff4a12","#ea0012","#b30000","#7d0000","#5e0c00","#3a1005","#000000"]},"legend":null}}},
{"data":{"name":"labels"},"transform":[{"filter":"datum.x>378"},{"calculate":"atan2(datum.y-418,datum.x-378)*180/PI","as":"rot"}],"mark":{"type":"text","align":"left","baseline":"middle","fontSize":9.5,"font":"Liberation Sans","fill":"#222"},"encoding":{"x":{"field":"x","type":"quantitative","axis":null},"y":{"field":"y","type":"quantitative","axis":null},"text":{"field":"s"},"angle":{"field":"rot","type":"quantitative","scale":null}}},
{"data":{"name":"labels"},"transform":[{"filter":"datum.x<=378"},{"calculate":"atan2(datum.y-418,datum.x-378)*180/PI+180","as":"rot"}],"mark":{"type":"text","align":"right","baseline":"middle","fontSize":9.5,"font":"Liberation Sans","fill":"#222"},"encoding":{"x":{"field":"x","type":"quantitative","axis":null},"y":{"field":"y","type":"quantitative","axis":null},"text":{"field":"s"},"angle":{"field":"rot","type":"quantitative","scale":null}}},
{"data":{"values":[{"x":249,"y":298,"s":"Ascomycota","a":-42},{"x":541,"y":495,"s":"Basidiomycota","a":117}]},"mark":{"type":"text","fontSize":7.5,"font":"Liberation Sans","fill":"#333","align":"center","baseline":"middle"},"encoding":{"x":{"field":"x","type":"quantitative","axis":null},"y":{"field":"y","type":"quantitative","axis":null},"text":{"field":"s"},"angle":{"field":"a","type":"quantitative","scale":null}}},
{"data":{"values":[{"x":355,"y":6,"s":"kruskal test: pvalue-0.05"}]},"mark":{"type":"text","fontSize":11.5,"fontWeight":"bold","font":"Liberation Sans","fill":"#111","align":"center","baseline":"middle"},"encoding":{"x":{"field":"x","type":"quantitative","axis":null},"y":{"field":"y","type":"quantitative","axis":null},"text":{"field":"s"}}},
{"data":{"values":[{"x":18,"y":46,"s":"A"},{"x":20,"y":825,"s":"B"}]},"mark":{"type":"text","fontSize":31,"fontWeight":"bold","font":"Liberation Sans","fill":"#000","align":"center","baseline":"middle"},"encoding":{"x":{"field":"x","type":"quantitative","axis":null},"y":{"field":"y","type":"quantitative","axis":null},"text":{"field":"s"}}},
{"data":{"values":[{"x":664,"y":82,"x2":738,"y2":116}]},"mark":{"type":"rect","fill":"white","stroke":"#000","strokeWidth":1},"encoding":{"x":{"field":"x","type":"quantitative","axis":null},"y":{"field":"y","type":"quantitative","axis":null},"x2":{"field":"x2"},"y2":{"field":"y2"}}},
{"data":{"values":[{"x":701,"y":99,"s":"top100"}]},"mark":{"type":"text","fontSize":12,"fontWeight":"bold","font":"Liberation Sans","fill":"#111","align":"center","baseline":"middle"},"encoding":{"x":{"field":"x","type":"quantitative","axis":null},"y":{"field":"y","type":"quantitative","axis":null},"text":{"field":"s"}}},
{"data":{"values":[{"x":378,"y":515,"s":"p"},{"x":378,"y":531,"s":"c"},{"x":378,"y":546,"s":"o"},{"x":378,"y":562,"s":"f"},{"x":378,"y":577,"s":"g"}]},"mark":{"type":"text","fontSize":10,"font":"Liberation Sans","fill":"#5cf05c","align":"center","baseline":"middle"},"encoding":{"x":{"field":"x","type":"quantitative","axis":null},"y":{"field":"y","type":"quantitative","axis":null},"text":{"field":"s"}}},
{"data":{"values":[{"x":378,"y":608,"s":"0"}]},"mark":{"type":"text","fontSize":6.5,"fontWeight":"bold","font":"Liberation Sans","fill":"#6c9fcf","align":"center","baseline":"middle"},"encoding":{"x":{"field":"x","type":"quantitative","axis":null},"y":{"field":"y","type":"quantitative","axis":null},"text":{"field":"s"}}},
{"data":{"values":[{"x":378,"y":616,"s":"1+"}]},"mark":{"type":"text","fontSize":6.5,"fontWeight":"bold","font":"Liberation Sans","fill":"#f0883a","align":"center","baseline":"middle"},"encoding":{"x":{"field":"x","type":"quantitative","axis":null},"y":{"field":"y","type":"quantitative","axis":null},"text":{"field":"s"}}},
{"data":{"values":[{"x":378,"y":623,"s":"2+"}]},"mark":{"type":"text","fontSize":6.5,"fontWeight":"bold","font":"Liberation Sans","fill":"#3fa84f","align":"center","baseline":"middle"},"encoding":{"x":{"field":"x","type":"quantitative","axis":null},"y":{"field":"y","type":"quantitative","axis":null},"text":{"field":"s"}}}
],
"resolve":{"scale":{"color":"independent"}}
},
{"width":699,"height":666,
"layer":[
{"data":{"values":[{"a":-0.5,"b":52.5,"y0":-0.5,"y1":49.5}]},"mark":{"type":"rect","fill":"#f8696b"},"encoding":{"x":{"field":"a","type":"quantitative","scale":{"domain":[-13.73,52.5],"nice":false,"zero":false},"axis":null},"x2":{"field":"b"},"y":{"field":"y0","type":"quantitative","scale":{"domain":[-1.708,49.5],"reverse":true,"nice":false,"zero":false},"axis":null},"y2":{"field":"y1"}}},
{"data":{"name":"heat"},"mark":{"type":"rect","width":11,"height":13.5},"encoding":{"x":{"field":"c","type":"quantitative"},"y":{"field":"r","type":"quantitative"},"color":{"field":"v","type":"quantitative","scale":{"domain":[0,0.5,1],"range":["#f8696b","#ffeb84","#63be7b"]},"legend":null}}},
{"data":{"values":[{"g":-0.5,"y0":-0.6,"y1":49.5},{"g":19.5,"y0":-0.6,"y1":49.5},{"g":34.5,"y0":-0.6,"y1":49.5},{"g":52.5,"y0":-0.6,"y1":49.5}]},"mark":{"type":"rule","stroke":"#1a1a1a","strokeWidth":1.2},"encoding":{"x":{"field":"g","type":"quantitative"},"y":{"field":"y0","type":"quantitative"},"y2":{"field":"y1"}}},
{"data":{"values":[{"g":"N0","v":0,"a":-0.5,"b":19.5,"y0":-1.59,"y1":-0.61,"m":9.5,"ym":-1.13},{"g":"N1","v":0.5,"a":19.5,"b":34.5,"y0":-1.59,"y1":-0.61,"m":27,"ym":-1.13},{"g":"N2","v":1,"a":34.5,"b":52.5,"y0":-1.59,"y1":-0.61,"m":43.5,"ym":-1.13}]},"layer":[{"mark":{"type":"rect","stroke":"#000","strokeWidth":3},"encoding":{"x":{"field":"a","type":"quantitative"},"x2":{"field":"b"},"y":{"field":"y0","type":"quantitative"},"y2":{"field":"y1"},"color":{"field":"v","type":"quantitative","legend":null}}},{"mark":{"type":"text","fontSize":8,"font":"Liberation Sans","fill":"#444","align":"center","baseline":"middle"},"encoding":{"x":{"field":"m","type":"quantitative"},"y":{"field":"ym","type":"quantitative"},"text":{"field":"g"}}}]},
{"data":{"name":"legend"},"layer":[{"mark":{"type":"rect"},"encoding":{"x":{"field":"a","type":"quantitative"},"x2":{"field":"b"},"y":{"field":"y0","type":"quantitative"},"y2":{"field":"y1"},"color":{"field":"v","type":"quantitative","legend":null}}},{"transform":[{"calculate":"-2.36","as":"lx"}],"mark":{"type":"text","fontSize":10,"font":"Liberation Sans","fill":"#111","align":"right","baseline":"middle"},"encoding":{"x":{"field":"lx","type":"quantitative"},"y":{"field":"ly","type":"quantitative"},"text":{"field":"t"}}}]},
{"data":{"name":"rows"},"transform":[{"calculate":"53.23","as":"lx"}],"mark":{"type":"text","align":"left","baseline":"middle","fontSize":10.5,"fontStyle":"italic","font":"Liberation Sans"},"encoding":{"x":{"field":"lx","type":"quantitative"},"y":{"field":"r","type":"quantitative"},"text":{"field":"s"},"fill":{"field":"k","type":"nominal","scale":{"domain":["n","s"],"range":["#111111","#e8141c"]},"legend":null}}}
],
"resolve":{"scale":{"fill":"independent"}}
}
]
}
